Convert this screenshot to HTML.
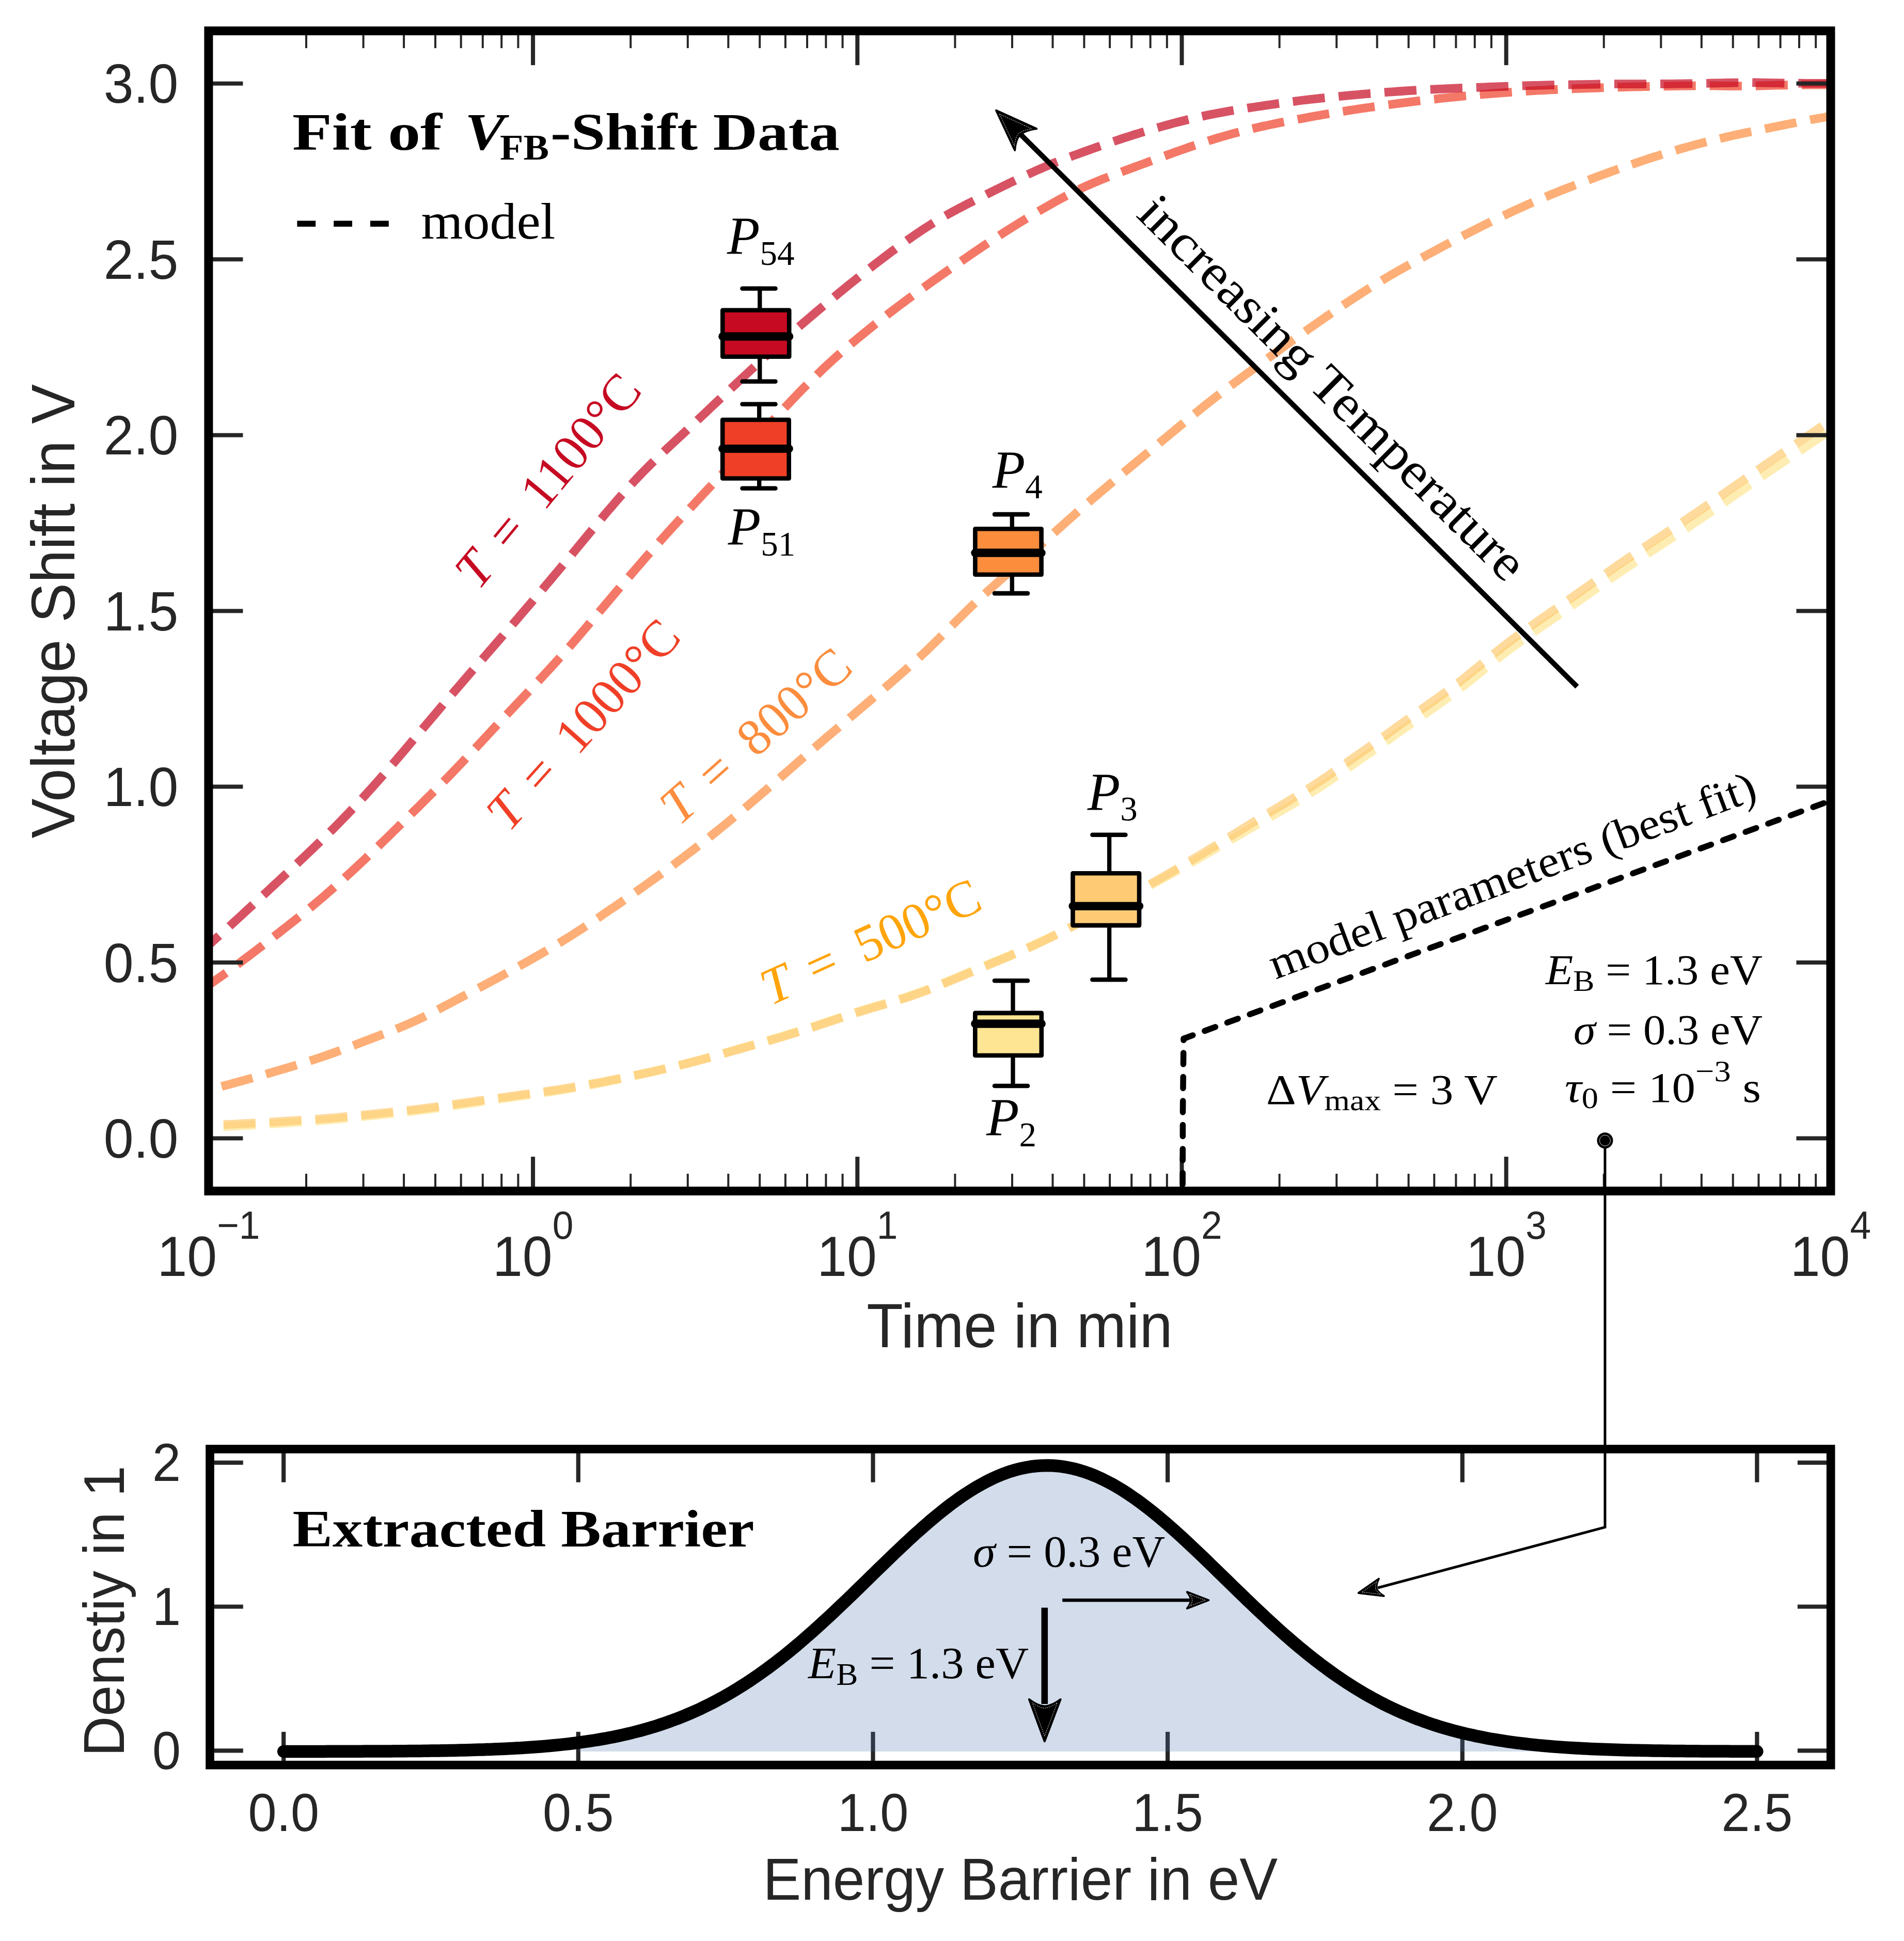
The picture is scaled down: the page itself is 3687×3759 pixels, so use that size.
<!DOCTYPE html>
<html><head><meta charset="utf-8"><style>
html,body{margin:0;padding:0;background:#fff;}
svg{display:block;}
</style></head><body>
<svg xmlns="http://www.w3.org/2000/svg" width="3687" height="3759" viewBox="0 0 3687 3759">
<rect width="3687" height="3759" fill="#fff"/>
<defs><clipPath id="cTop"><rect x="403.9" y="59.8" width="3141.1" height="2246.8"/></clipPath>
<clipPath id="cBot"><rect x="406.5" y="2806.3" width="3138.7" height="611.9"/></clipPath></defs>
<g clip-path="url(#cTop)">
<polyline points="432.8,2181.8 440.6,2181.5 448.5,2181.1 456.3,2180.7 464.2,2180.3 472,2179.9 479.8,2179.5 487.7,2179 495.5,2178.6 503.3,2178.1 511.2,2177.6 519,2177.1 526.9,2176.6 534.7,2176.1 542.5,2175.6 550.4,2175 558.2,2174.5 566,2174 573.9,2173.5 581.7,2172.9 589.6,2172.4 597.4,2171.9 605.2,2171.3 613.1,2170.8 620.9,2170.2 628.7,2169.5 636.6,2168.9 644.4,2168.2 652.3,2167.5 660.1,2166.8 667.9,2166 675.8,2165.3 683.6,2164.5 691.4,2163.7 699.3,2162.8 707.1,2162 715,2161.2 722.8,2160.4 730.6,2159.6 738.5,2158.7 746.3,2157.9 754.1,2157.1 762,2156.3 769.8,2155.4 777.7,2154.6 785.5,2153.7 793.3,2152.8 801.2,2151.9 809,2150.9 816.8,2150 824.7,2149 832.5,2147.9 840.4,2146.9 848.2,2145.8 856,2144.7 863.9,2143.6 871.7,2142.4 879.5,2141.3 887.4,2140.1 895.2,2139 903.1,2137.9 910.9,2136.7 918.7,2135.6 926.6,2134.4 934.4,2133.3 942.2,2132.1 950.1,2131 957.9,2129.9 965.8,2128.8 973.6,2127.6 981.4,2126.5 989.3,2125.4 997.1,2124.3 1004.9,2123.2 1012.8,2122.1 1020.6,2121 1028.5,2119.9 1036.3,2118.7 1044.1,2117.6 1052,2116.5 1059.8,2115.3 1067.6,2114.1 1075.5,2113 1083.3,2111.7 1091.2,2110.5 1099,2109.2 1106.8,2107.9 1114.7,2106.5 1122.5,2105.1 1130.3,2103.7 1138.2,2102.2 1146,2100.7 1153.9,2099.2 1161.7,2097.6 1169.5,2096 1177.4,2094.4 1185.2,2092.8 1193,2091.2 1200.9,2089.5 1208.7,2087.9 1216.6,2086.2 1224.4,2084.5 1232.2,2082.7 1240.1,2081 1247.9,2079.3 1255.7,2077.5 1263.6,2075.7 1271.4,2073.9 1279.3,2072.1 1287.1,2070.2 1294.9,2068.3 1302.8,2066.4 1310.6,2064.5 1318.4,2062.5 1326.3,2060.5 1334.1,2058.5 1342,2056.4 1349.8,2054.3 1357.6,2052.1 1365.5,2049.9 1373.3,2047.7 1381.1,2045.5 1389,2043.2 1396.8,2041 1404.7,2038.7 1412.5,2036.5 1420.3,2034.2 1428.2,2031.9 1436,2029.7 1443.8,2027.4 1451.7,2025.2 1459.5,2022.9 1467.4,2020.6 1475.2,2018.3 1483,2016 1490.9,2013.7 1498.7,2011.3 1506.6,2009 1514.4,2006.7 1522.2,2004.3 1530.1,2001.9 1537.9,1999.5 1545.7,1997.1 1553.6,1994.6 1561.4,1992.1 1569.3,1989.5 1577.1,1987 1584.9,1984.4 1592.8,1981.8 1600.6,1979.2 1608.4,1976.5 1616.3,1973.9 1624.1,1971.3 1632,1968.6 1639.8,1966 1647.6,1963.4 1655.5,1960.9 1663.3,1958.4 1671.1,1956 1679,1953.6 1686.8,1951.2 1694.7,1948.9 1702.5,1946.6 1710.3,1944.4 1718.2,1942.1 1726,1939.8 1733.8,1937.4 1741.7,1935 1749.5,1932.5 1757.4,1930 1765.2,1927.3 1773,1924.5 1780.9,1921.7 1788.7,1918.8 1796.5,1915.8 1804.4,1912.7 1812.2,1909.6 1820.1,1906.4 1827.9,1903.2 1835.7,1900 1843.6,1896.7 1851.4,1893.5 1859.2,1890.2 1867.1,1886.9 1874.9,1883.6 1882.8,1880.4 1890.6,1877.1 1898.4,1873.8 1906.3,1870.5 1914.1,1867.3 1921.9,1864 1929.8,1860.7 1937.6,1857.4 1945.5,1854.2 1953.3,1850.9 1961.1,1847.6 1969,1844.2 1976.8,1840.8 1984.6,1837.4 1992.5,1833.9 2000.3,1830.3 2008.2,1826.8 2016,1823.3 2023.8,1819.6 2031.7,1816 2039.5,1812.2 2047.3,1808.5 2055.2,1804.6 2063,1800.8 2070.9,1796.9 2078.7,1792.9 2086.5,1789 2094.4,1785 2102.2,1781 2110,1776.9 2117.9,1772.8 2125.7,1768.7 2133.6,1764.6 2141.4,1760.4 2149.2,1756.3 2157.1,1752.1 2164.9,1748 2172.7,1743.8 2180.6,1739.7 2188.4,1735.6 2196.3,1731.4 2204.1,1727.3 2211.9,1723.1 2219.8,1718.9 2227.6,1714.6 2235.4,1710.4 2243.3,1706.1 2251.1,1701.7 2259,1697.5 2266.8,1693.2 2274.6,1688.9 2282.5,1684.5 2290.3,1680.1 2298.1,1675.7 2306,1671.3 2313.8,1666.9 2321.7,1662.4 2329.5,1657.9 2337.3,1653.3 2345.2,1648.8 2353,1644.3 2360.8,1639.7 2368.7,1635.1 2376.5,1630.5 2384.4,1625.9 2392.2,1621.4 2400,1616.8 2407.9,1612.2 2415.7,1607.6 2423.5,1603.1 2431.4,1598.6 2439.2,1594.1 2447.1,1589.6 2454.9,1585.1 2462.7,1580.6 2470.6,1576.2 2478.4,1571.7 2486.2,1567.3 2494.1,1562.8 2501.9,1558.3 2509.8,1553.5 2517.6,1548.8 2525.4,1543.9 2533.3,1539 2541.1,1534 2549,1529 2556.8,1523.9 2564.6,1518.7 2572.5,1513.4 2580.3,1508.1 2588.1,1502.7 2596,1497.4 2603.8,1492 2611.7,1486.5 2619.5,1481.1 2627.3,1475.7 2635.2,1470.2 2643,1464.7 2650.8,1459.3 2658.7,1453.8 2666.5,1448.3 2674.4,1442.7 2682.2,1437.2 2690,1431.6 2697.9,1426.1 2705.7,1420.5 2713.5,1414.9 2721.4,1409.3 2729.2,1403.8 2737.1,1398.2 2744.9,1392.7 2752.7,1387.2 2760.6,1381.8 2768.4,1376.3 2776.2,1370.8 2784.1,1365.4 2791.9,1359.8 2799.8,1354.2 2807.6,1348.5 2815.4,1342.7 2823.3,1336.8 2831.1,1330.8 2838.9,1324.7 2846.8,1318.5 2854.6,1312.2 2862.5,1305.8 2870.3,1299.4 2878.1,1293.1 2886,1286.7 2893.8,1280.5 2901.6,1274.3 2909.5,1268.2 2917.3,1262.1 2925.2,1256.2 2933,1250.4 2940.8,1244.7 2948.7,1239.1 2956.5,1233.6 2964.3,1228.1 2972.2,1222.6 2980,1217.2 2987.9,1211.8 2995.7,1206.4 3003.5,1201 3011.4,1195.6 3019.2,1190.1 3027,1184.7 3034.9,1179.3 3042.7,1173.8 3050.6,1168.4 3058.4,1162.9 3066.2,1157.4 3074.1,1151.9 3081.9,1146.4 3089.7,1141 3097.6,1135.5 3105.4,1130 3113.3,1124.6 3121.1,1119.2 3128.9,1113.8 3136.8,1108.4 3144.6,1103.1 3152.4,1097.8 3160.3,1092.5 3168.1,1087.3 3176,1082.1 3183.8,1076.9 3191.6,1071.8 3199.5,1066.6 3207.3,1061.5 3215.1,1056.4 3223,1051.3 3230.8,1046.1 3238.7,1041 3246.5,1035.9 3254.3,1030.7 3262.2,1025.5 3270,1020.3 3277.8,1015 3285.7,1009.8 3293.5,1004.5 3301.4,999.1 3309.2,993.8 3317,988.4 3324.9,983 3332.7,977.6 3340.5,972.2 3348.4,966.7 3356.2,961.3 3364.1,955.9 3371.9,950.4 3379.7,945 3387.6,939.6 3395.4,934.2 3403.2,928.8 3411.1,923.4 3418.9,918 3426.8,912.6 3434.6,907.3 3442.4,902 3450.3,896.6 3458.1,891.3 3465.9,886 3473.8,880.7 3481.6,875.4 3489.5,870.2 3497.3,864.9 3505.1,859.7 3513,854.4 3520.8,849.2 3528.6,844 3536.5,838.8 3544.3,833.7 3552.2,828.6 3560,823.5" fill="none" stroke="#fee593" stroke-width="16.8" stroke-opacity="0.7" stroke-dasharray="62.2 26.9" stroke-dashoffset="0" stroke-linejoin="round"/>
<polyline points="432.8,2177.8 440.6,2177.5 448.5,2177.1 456.3,2176.8 464.2,2176.4 472,2176 479.8,2175.6 487.7,2175.2 495.5,2174.8 503.3,2174.3 511.2,2173.9 519,2173.4 526.9,2172.9 534.7,2172.4 542.5,2171.9 550.4,2171.4 558.2,2170.9 566,2170.4 573.9,2169.9 581.7,2169.4 589.6,2168.9 597.4,2168.4 605.2,2167.8 613.1,2167.3 620.9,2166.7 628.7,2166.1 636.6,2165.5 644.4,2164.9 652.3,2164.2 660.1,2163.5 667.9,2162.7 675.8,2162 683.6,2161.2 691.4,2160.4 699.3,2159.6 707.1,2158.9 715,2158.1 722.8,2157.3 730.6,2156.5 738.5,2155.7 746.3,2154.9 754.1,2154.1 762,2153.3 769.8,2152.4 777.7,2151.6 785.5,2150.8 793.3,2149.9 801.2,2149 809,2148.1 816.8,2147.1 824.7,2146.1 832.5,2145.1 840.4,2144.1 848.2,2143 856,2141.9 863.9,2140.8 871.7,2139.7 879.5,2138.6 887.4,2137.5 895.2,2136.4 903.1,2135.3 910.9,2134.2 918.7,2133 926.6,2131.9 934.4,2130.8 942.2,2129.7 950.1,2128.6 957.9,2127.5 965.8,2126.4 973.6,2125.3 981.4,2124.2 989.3,2123.1 997.1,2122 1004.9,2120.9 1012.8,2119.8 1020.6,2118.7 1028.5,2117.6 1036.3,2116.6 1044.1,2115.4 1052,2114.3 1059.8,2113.2 1067.6,2112.1 1075.5,2110.9 1083.3,2109.7 1091.2,2108.5 1099,2107.2 1106.8,2105.9 1114.7,2104.6 1122.5,2103.3 1130.3,2101.9 1138.2,2100.5 1146,2099.1 1153.9,2097.6 1161.7,2096.2 1169.5,2094.7 1177.4,2093.1 1185.2,2091.6 1193,2090 1200.9,2088.4 1208.7,2086.8 1216.6,2085.2 1224.4,2083.6 1232.2,2081.9 1240.1,2080.2 1247.9,2078.6 1255.7,2076.9 1263.6,2075.1 1271.4,2073.4 1279.3,2071.6 1287.1,2069.9 1294.9,2068 1302.8,2066.2 1310.6,2064.3 1318.4,2062.4 1326.3,2060.5 1334.1,2058.5 1342,2056.5 1349.8,2054.5 1357.6,2052.4 1365.5,2050.3 1373.3,2048.1 1381.1,2046 1389,2043.8 1396.8,2041.6 1404.7,2039.4 1412.5,2037.2 1420.3,2035 1428.2,2032.8 1436,2030.6 1443.8,2028.4 1451.7,2026.2 1459.5,2024 1467.4,2021.8 1475.2,2019.6 1483,2017.4 1490.9,2015.1 1498.7,2012.8 1506.6,2010.5 1514.4,2008.2 1522.2,2005.8 1530.1,2003.4 1537.9,2001 1545.7,1998.6 1553.6,1996.1 1561.4,1993.6 1569.3,1991 1577.1,1988.5 1584.9,1985.9 1592.8,1983.3 1600.6,1980.7 1608.4,1978 1616.3,1975.4 1624.1,1972.8 1632,1970.1 1639.8,1967.5 1647.6,1964.9 1655.5,1962.4 1663.3,1959.9 1671.1,1957.5 1679,1955.1 1686.8,1952.7 1694.7,1950.4 1702.5,1948.1 1710.3,1945.9 1718.2,1943.6 1726,1941.3 1733.8,1938.9 1741.7,1936.5 1749.5,1934 1757.4,1931.5 1765.2,1928.8 1773,1926 1780.9,1923.2 1788.7,1920.3 1796.5,1917.3 1804.4,1914.2 1812.2,1911.1 1820.1,1907.9 1827.9,1904.7 1835.7,1901.5 1843.6,1898.2 1851.4,1895 1859.2,1891.7 1867.1,1888.4 1874.9,1885.1 1882.8,1881.9 1890.6,1878.6 1898.4,1875.3 1906.3,1872 1914.1,1868.8 1921.9,1865.5 1929.8,1862.2 1937.6,1858.9 1945.5,1855.7 1953.3,1852.4 1961.1,1849.1 1969,1845.7 1976.8,1842.3 1984.6,1838.9 1992.5,1835.4 2000.3,1831.8 2008.2,1828.2 2016,1824.5 2023.8,1820.7 2031.7,1816.9 2039.5,1813 2047.3,1809.1 2055.2,1805.1 2063,1801.1 2070.9,1797.1 2078.7,1793 2086.5,1788.9 2094.4,1784.8 2102.2,1780.6 2110,1776.4 2117.9,1772.2 2125.7,1767.9 2133.6,1763.7 2141.4,1759.4 2149.2,1755.1 2157.1,1750.8 2164.9,1746.5 2172.7,1742.2 2180.6,1738 2188.4,1733.7 2196.3,1729.4 2204.1,1725.1 2211.9,1720.8 2219.8,1716.4 2227.6,1712 2235.4,1707.6 2243.3,1703.2 2251.1,1698.7 2259,1694.2 2266.8,1689.7 2274.6,1685.1 2282.5,1680.5 2290.3,1675.9 2298.1,1671.2 2306,1666.5 2313.8,1661.8 2321.7,1657.1 2329.5,1652.3 2337.3,1647.6 2345.2,1642.8 2353,1638 2360.8,1633.1 2368.7,1628.3 2376.5,1623.5 2384.4,1618.6 2392.2,1613.8 2400,1609 2407.9,1604.2 2415.7,1599.3 2423.5,1594.5 2431.4,1589.8 2439.2,1585 2447.1,1580.3 2454.9,1575.5 2462.7,1570.8 2470.6,1566.1 2478.4,1561.4 2486.2,1556.7 2494.1,1552 2501.9,1547.2 2509.8,1542.4 2517.6,1537.6 2525.4,1532.7 2533.3,1527.7 2541.1,1522.6 2549,1517.5 2556.8,1512.3 2564.6,1507 2572.5,1501.7 2580.3,1496.3 2588.1,1490.9 2596,1485.4 2603.8,1479.9 2611.7,1474.4 2619.5,1468.9 2627.3,1463.4 2635.2,1457.8 2643,1452.3 2650.8,1446.8 2658.7,1441.2 2666.5,1435.6 2674.4,1430 2682.2,1424.4 2690,1418.7 2697.9,1413.1 2705.7,1407.4 2713.5,1401.8 2721.4,1396.1 2729.2,1390.5 2737.1,1384.9 2744.9,1379.3 2752.7,1373.7 2760.6,1368.2 2768.4,1362.6 2776.2,1357.1 2784.1,1351.5 2791.9,1345.9 2799.8,1340.2 2807.6,1334.5 2815.4,1328.6 2823.3,1322.6 2831.1,1316.5 2838.9,1310.3 2846.8,1304 2854.6,1297.6 2862.5,1291.2 2870.3,1284.7 2878.1,1278.3 2886,1271.9 2893.8,1265.5 2901.6,1259.3 2909.5,1253.1 2917.3,1247 2925.2,1241.1 2933,1235.2 2940.8,1229.5 2948.7,1223.8 2956.5,1218.2 2964.3,1212.7 2972.2,1207.2 2980,1201.7 2987.9,1196.2 2995.7,1190.8 3003.5,1185.3 3011.4,1179.9 3019.2,1174.4 3027,1169 3034.9,1163.5 3042.7,1158 3050.6,1152.5 3058.4,1146.9 3066.2,1141.4 3074.1,1135.9 3081.9,1130.3 3089.7,1124.8 3097.6,1119.3 3105.4,1113.8 3113.3,1108.3 3121.1,1102.8 3128.9,1097.4 3136.8,1092 3144.6,1086.6 3152.4,1081.3 3160.3,1076 3168.1,1070.7 3176,1065.4 3183.8,1060.2 3191.6,1055 3199.5,1049.8 3207.3,1044.6 3215.1,1039.5 3223,1034.3 3230.8,1029.1 3238.7,1024 3246.5,1018.8 3254.3,1013.6 3262.2,1008.3 3270,1003 3277.8,997.8 3285.7,992.4 3293.5,987.1 3301.4,981.7 3309.2,976.3 3317,970.9 3324.9,965.4 3332.7,960 3340.5,954.5 3348.4,949 3356.2,943.5 3364.1,938 3371.9,932.6 3379.7,927.1 3387.6,921.6 3395.4,916.1 3403.2,910.7 3411.1,905.3 3418.9,899.9 3426.8,894.5 3434.6,889.1 3442.4,883.7 3450.3,878.3 3458.1,872.9 3465.9,867.6 3473.8,862.2 3481.6,856.9 3489.5,851.6 3497.3,846.3 3505.1,841 3513,835.7 3520.8,830.4 3528.6,825.2 3536.5,820 3544.3,814.8 3552.2,809.6 3560,804.5" fill="none" stroke="#fecb74" stroke-width="16.8" stroke-opacity="0.7" stroke-dasharray="62.2 26.9" stroke-dashoffset="0" stroke-linejoin="round"/>
<polyline points="429,2103.9 436.8,2101.8 444.7,2099.8 452.5,2097.7 460.4,2095.5 468.2,2093.4 476.1,2091.2 483.9,2089 491.8,2086.8 499.6,2084.5 507.5,2082.3 515.3,2080 523.2,2077.8 531,2075.5 538.9,2073.2 546.7,2070.9 554.6,2068.6 562.4,2066.2 570.2,2063.9 578.1,2061.5 585.9,2059 593.8,2056.6 601.6,2054 609.5,2051.5 617.3,2048.9 625.2,2046.2 633,2043.5 640.9,2040.8 648.7,2038 656.6,2035.1 664.4,2032.2 672.3,2029.3 680.1,2026.4 688,2023.4 695.8,2020.4 703.6,2017.4 711.5,2014.4 719.3,2011.4 727.2,2008.4 735,2005.4 742.9,2002.4 750.7,1999.4 758.6,1996.3 766.4,1993.2 774.3,1990 782.1,1986.8 790,1983.4 797.8,1979.9 805.7,1976.4 813.5,1972.7 821.4,1968.9 829.2,1965 837.1,1961 844.9,1957 852.7,1952.9 860.6,1948.7 868.4,1944.6 876.3,1940.4 884.1,1936.2 892,1932 899.8,1927.8 907.7,1923.7 915.5,1919.5 923.4,1915.3 931.2,1911.2 939.1,1907 946.9,1902.8 954.8,1898.6 962.6,1894.4 970.5,1890.2 978.3,1885.9 986.1,1881.6 994,1877.3 1001.8,1873 1009.7,1868.6 1017.5,1864.3 1025.4,1859.9 1033.2,1855.4 1041.1,1850.9 1048.9,1846.4 1056.8,1841.8 1064.6,1837.2 1072.5,1832.6 1080.3,1827.8 1088.2,1823 1096,1818.2 1103.9,1813.3 1111.7,1808.3 1119.5,1803.2 1127.4,1798.1 1135.2,1793 1143.1,1787.8 1150.9,1782.5 1158.8,1777.3 1166.6,1771.9 1174.5,1766.6 1182.3,1761.2 1190.2,1755.9 1198,1750.5 1205.9,1745 1213.7,1739.6 1221.6,1734.1 1229.4,1728.7 1237.3,1723.1 1245.1,1717.6 1252.9,1712 1260.8,1706.4 1268.6,1700.8 1276.5,1695.1 1284.3,1689.4 1292.2,1683.6 1300,1677.8 1307.9,1672 1315.7,1666.1 1323.6,1660.2 1331.4,1654.2 1339.3,1648.2 1347.1,1642.1 1355,1636 1362.8,1629.9 1370.7,1623.7 1378.5,1617.4 1386.3,1611.1 1394.2,1604.8 1402,1598.4 1409.9,1592 1417.7,1585.5 1425.6,1579 1433.4,1572.5 1441.3,1565.9 1449.1,1559.3 1457,1552.6 1464.8,1545.9 1472.7,1539.2 1480.5,1532.4 1488.4,1525.6 1496.2,1518.8 1504.1,1512 1511.9,1505.1 1519.7,1498.3 1527.6,1491.4 1535.4,1484.6 1543.3,1477.7 1551.1,1470.9 1559,1464.1 1566.8,1457.3 1574.7,1450.5 1582.5,1443.7 1590.4,1437 1598.2,1430.2 1606.1,1423.5 1613.9,1416.8 1621.8,1410.2 1629.6,1403.5 1637.5,1396.9 1645.3,1390.2 1653.2,1383.6 1661,1376.9 1668.8,1370.3 1676.7,1363.6 1684.5,1357 1692.4,1350.3 1700.2,1343.6 1708.1,1336.9 1715.9,1330.1 1723.8,1323.3 1731.6,1316.5 1739.5,1309.7 1747.3,1302.8 1755.2,1295.8 1763,1288.8 1770.9,1281.7 1778.7,1274.5 1786.6,1267.2 1794.4,1259.8 1802.2,1252.2 1810.1,1244.6 1817.9,1236.9 1825.8,1229.1 1833.6,1221.2 1841.5,1213.3 1849.3,1205.5 1857.2,1197.6 1865,1189.9 1872.9,1182.2 1880.7,1174.6 1888.6,1167.2 1896.4,1159.9 1904.3,1152.6 1912.1,1145.5 1920,1138.4 1927.8,1131.4 1935.6,1124.5 1943.5,1117.6 1951.3,1110.8 1959.2,1103.9 1967,1097.1 1974.9,1090.3 1982.7,1083.5 1990.6,1076.6 1998.4,1069.8 2006.3,1062.9 2014.1,1055.9 2022,1049 2029.8,1042 2037.7,1035 2045.5,1028 2053.4,1020.9 2061.2,1013.9 2069,1007 2076.9,1000 2084.7,993 2092.6,986.1 2100.4,979.3 2108.3,972.5 2116.1,965.7 2124,959 2131.8,952.3 2139.7,945.7 2147.5,939.1 2155.4,932.5 2163.2,925.9 2171.1,919.4 2178.9,912.8 2186.8,906.3 2194.6,899.8 2202.4,893.3 2210.3,886.8 2218.1,880.3 2226,873.8 2233.8,867.2 2241.7,860.7 2249.5,854.2 2257.4,847.7 2265.2,841.2 2273.1,834.7 2280.9,828.2 2288.8,821.7 2296.6,815.2 2304.5,808.7 2312.3,802.3 2320.2,796 2328,789.6 2335.8,783.4 2343.7,777.2 2351.5,771 2359.4,764.9 2367.2,758.9 2375.1,753 2382.9,747.1 2390.8,741.2 2398.6,735.4 2406.5,729.6 2414.3,723.8 2422.2,718.1 2430,712.3 2437.9,706.5 2445.7,700.8 2453.6,695 2461.4,689.3 2469.3,683.6 2477.1,677.9 2484.9,672.2 2492.8,666.5 2500.6,660.9 2508.5,655.3 2516.3,649.7 2524.2,644.1 2532,638.6 2539.9,633.1 2547.7,627.6 2555.6,622.1 2563.4,616.7 2571.3,611.3 2579.1,606 2587,600.6 2594.8,595.3 2602.7,590 2610.5,584.8 2618.3,579.6 2626.2,574.5 2634,569.4 2641.9,564.3 2649.7,559.3 2657.6,554.4 2665.4,549.6 2673.3,544.8 2681.1,540.1 2689,535.4 2696.8,530.8 2704.7,526.3 2712.5,521.8 2720.4,517.4 2728.2,513 2736.1,508.7 2743.9,504.4 2751.7,500.1 2759.6,495.8 2767.4,491.5 2775.3,487.3 2783.1,483.1 2791,478.9 2798.8,474.7 2806.7,470.5 2814.5,466.4 2822.4,462.2 2830.2,458.1 2838.1,454.1 2845.9,450.1 2853.8,446.1 2861.6,442.1 2869.5,438.1 2877.3,434.2 2885.1,430.4 2893,426.5 2900.8,422.7 2908.7,419 2916.5,415.3 2924.4,411.6 2932.2,407.9 2940.1,404.3 2947.9,400.8 2955.8,397.3 2963.6,393.8 2971.5,390.4 2979.3,387 2987.2,383.7 2995,380.4 3002.9,377.1 3010.7,373.9 3018.5,370.8 3026.4,367.6 3034.2,364.6 3042.1,361.5 3049.9,358.5 3057.8,355.5 3065.6,352.5 3073.5,349.5 3081.3,346.6 3089.2,343.6 3097,340.7 3104.9,337.8 3112.7,335 3120.6,332.2 3128.4,329.3 3136.3,326.6 3144.1,323.8 3151.9,321.1 3159.8,318.3 3167.6,315.7 3175.5,313 3183.3,310.4 3191.2,307.8 3199,305.2 3206.9,302.7 3214.7,300.2 3222.6,297.7 3230.4,295.3 3238.3,293 3246.1,290.7 3254,288.4 3261.8,286.1 3269.7,284 3277.5,281.8 3285.4,279.7 3293.2,277.6 3301,275.6 3308.9,273.6 3316.7,271.6 3324.6,269.7 3332.4,267.8 3340.3,266 3348.1,264.2 3356,262.4 3363.8,260.7 3371.7,259 3379.5,257.3 3387.4,255.7 3395.2,254.1 3403.1,252.5 3410.9,250.9 3418.8,249.3 3426.6,247.7 3434.4,246.1 3442.3,244.5 3450.1,242.9 3458,241.3 3465.8,239.8 3473.7,238.2 3481.5,236.6 3489.4,235.1 3497.2,233.6 3505.1,232.1 3512.9,230.7 3520.8,229.3 3528.6,227.9 3536.5,226.5 3544.3,225.2 3552.2,223.9 3560,222.7" fill="none" stroke="#fc8d3d" stroke-width="16.8" stroke-opacity="0.7" stroke-dasharray="62.2 26.9" stroke-dashoffset="0" stroke-linejoin="round"/>
<polyline points="380,1923.5 388,1918.3 395.9,1913 403.9,1907.6 411.9,1902.2 419.8,1896.7 427.8,1891.1 435.8,1885.4 443.8,1879.6 451.7,1873.8 459.7,1867.9 467.7,1862 475.6,1856 483.6,1850 491.6,1843.9 499.5,1837.8 507.5,1831.7 515.5,1825.5 523.5,1819.3 531.4,1813.2 539.4,1807 547.4,1800.7 555.3,1794.5 563.3,1788.2 571.3,1781.9 579.2,1775.5 587.2,1769.1 595.2,1762.6 603.2,1756 611.1,1749.3 619.1,1742.6 627.1,1735.8 635,1728.9 643,1721.9 651,1714.9 658.9,1707.8 666.9,1700.6 674.9,1693.3 682.9,1686 690.8,1678.6 698.8,1671.1 706.8,1663.6 714.7,1656 722.7,1648.4 730.7,1640.7 738.6,1633 746.6,1625.2 754.6,1617.4 762.6,1609.6 770.5,1601.8 778.5,1594 786.5,1586.1 794.4,1578.2 802.4,1570.3 810.4,1562.4 818.3,1554.5 826.3,1546.6 834.3,1538.6 842.3,1530.6 850.2,1522.5 858.2,1514.4 866.2,1506.3 874.1,1498.1 882.1,1489.8 890.1,1481.5 898,1473.1 906,1464.6 914,1456.1 922,1447.6 929.9,1439 937.9,1430.5 945.9,1421.9 953.8,1413.3 961.8,1404.7 969.8,1396.2 977.7,1387.7 985.7,1379.2 993.7,1370.7 1001.7,1362.3 1009.6,1353.9 1017.6,1345.4 1025.6,1337 1033.5,1328.5 1041.5,1320 1049.5,1311.5 1057.4,1302.9 1065.4,1294.2 1073.4,1285.5 1081.4,1276.7 1089.3,1267.8 1097.3,1258.8 1105.3,1249.7 1113.2,1240.5 1121.2,1231.3 1129.2,1221.9 1137.1,1212.6 1145.1,1203.1 1153.1,1193.7 1161.1,1184.2 1169,1174.8 1177,1165.3 1185,1155.9 1192.9,1146.5 1200.9,1137.1 1208.9,1127.8 1216.8,1118.5 1224.8,1109.2 1232.8,1100 1240.8,1090.7 1248.7,1081.6 1256.7,1072.4 1264.7,1063.3 1272.6,1054.3 1280.6,1045.3 1288.6,1036.4 1296.5,1027.6 1304.5,1018.8 1312.5,1010.1 1320.5,1001.4 1328.4,992.8 1336.4,984.2 1344.4,975.7 1352.3,967.1 1360.3,958.6 1368.3,950.1 1376.2,941.6 1384.2,933.1 1392.2,924.7 1400.2,916.3 1408.1,907.9 1416.1,899.5 1424.1,891.1 1432,882.7 1440,874.3 1448,865.9 1455.9,857.5 1463.9,849.1 1471.9,840.6 1479.8,832.1 1487.8,823.6 1495.8,815 1503.8,806.5 1511.7,798 1519.7,789.5 1527.7,781.1 1535.6,772.7 1543.6,764.4 1551.6,756.2 1559.5,748.1 1567.5,740.1 1575.5,732.2 1583.5,724.4 1591.4,716.7 1599.4,709.2 1607.4,701.9 1615.3,694.6 1623.3,687.5 1631.3,680.5 1639.2,673.6 1647.2,666.8 1655.2,660.1 1663.2,653.4 1671.1,646.9 1679.1,640.4 1687.1,633.9 1695,627.6 1703,621.3 1711,615 1718.9,608.8 1726.9,602.7 1734.9,596.6 1742.9,590.6 1750.8,584.7 1758.8,578.8 1766.8,572.9 1774.7,567.1 1782.7,561.3 1790.7,555.6 1798.6,549.9 1806.6,544.2 1814.6,538.6 1822.6,532.9 1830.5,527.3 1838.5,521.7 1846.5,516.2 1854.4,510.6 1862.4,505.1 1870.4,499.6 1878.3,494.1 1886.3,488.6 1894.3,483.2 1902.3,477.8 1910.2,472.5 1918.2,467.2 1926.2,461.9 1934.1,456.7 1942.1,451.6 1950.1,446.5 1958,441.5 1966,436.5 1974,431.5 1982,426.6 1989.9,421.8 1997.9,417 2005.9,412.3 2013.8,407.6 2021.8,403 2029.8,398.5 2037.7,394 2045.7,389.5 2053.7,385.2 2061.7,380.9 2069.6,376.8 2077.6,372.7 2085.6,368.7 2093.5,364.9 2101.5,361.2 2109.5,357.7 2117.4,354.2 2125.4,350.9 2133.4,347.6 2141.4,344.5 2149.3,341.4 2157.3,338.3 2165.3,335.3 2173.2,332.3 2181.2,329.4 2189.2,326.4 2197.1,323.5 2205.1,320.5 2213.1,317.6 2221.1,314.6 2229,311.7 2237,308.7 2245,305.8 2252.9,302.9 2260.9,300 2268.9,297.1 2276.8,294.2 2284.8,291.4 2292.8,288.6 2300.8,285.8 2308.7,283 2316.7,280.3 2324.7,277.7 2332.6,275.1 2340.6,272.5 2348.6,270.1 2356.5,267.6 2364.5,265.3 2372.5,263 2380.5,260.7 2388.4,258.5 2396.4,256.4 2404.4,254.3 2412.3,252.3 2420.3,250.4 2428.3,248.5 2436.2,246.6 2444.2,244.8 2452.2,243.1 2460.2,241.4 2468.1,239.7 2476.1,238.1 2484.1,236.5 2492,234.9 2500,233.4 2508,231.9 2515.9,230.4 2523.9,228.9 2531.9,227.4 2539.8,226 2547.8,224.6 2555.8,223.2 2563.8,221.8 2571.7,220.4 2579.7,219.1 2587.7,217.8 2595.6,216.5 2603.6,215.2 2611.6,213.9 2619.5,212.7 2627.5,211.5 2635.5,210.3 2643.5,209.1 2651.4,208 2659.4,206.9 2667.4,205.8 2675.3,204.7 2683.3,203.6 2691.3,202.5 2699.2,201.5 2707.2,200.4 2715.2,199.4 2723.2,198.4 2731.1,197.4 2739.1,196.4 2747.1,195.4 2755,194.5 2763,193.6 2771,192.6 2778.9,191.8 2786.9,190.9 2794.9,190 2802.9,189.2 2810.8,188.4 2818.8,187.6 2826.8,186.8 2834.7,186 2842.7,185.3 2850.7,184.6 2858.6,183.9 2866.6,183.2 2874.6,182.5 2882.6,181.8 2890.5,181.2 2898.5,180.6 2906.5,179.9 2914.4,179.3 2922.4,178.8 2930.4,178.2 2938.3,177.7 2946.3,177.1 2954.3,176.6 2962.3,176.1 2970.2,175.7 2978.2,175.2 2986.2,174.8 2994.1,174.3 3002.1,173.9 3010.1,173.5 3018,173.1 3026,172.8 3034,172.4 3042,172.1 3049.9,171.7 3057.9,171.4 3065.9,171.1 3073.8,170.8 3081.8,170.5 3089.8,170.3 3097.7,170 3105.7,169.7 3113.7,169.5 3121.7,169.2 3129.6,169 3137.6,168.8 3145.6,168.6 3153.5,168.4 3161.5,168.2 3169.5,168 3177.4,167.8 3185.4,167.6 3193.4,167.5 3201.4,167.3 3209.3,167.2 3217.3,167 3225.3,166.9 3233.2,166.8 3241.2,166.6 3249.2,166.5 3257.1,166.4 3265.1,166.3 3273.1,166.3 3281.1,166.2 3289,166.2 3297,166.2 3305,166.2 3312.9,166.2 3320.9,166.2 3328.9,166.3 3336.8,166.4 3344.8,166.5 3352.8,166.6 3360.8,166.6 3368.7,166.7 3376.7,166.7 3384.7,166.6 3392.6,166.5 3400.6,166.3 3408.6,166.1 3416.5,165.9 3424.5,165.7 3432.5,165.4 3440.5,165.2 3448.4,165 3456.4,164.9 3464.4,164.7 3472.3,164.6 3480.3,164.4 3488.3,164.3 3496.2,164.2 3504.2,164.2 3512.2,164.1 3520.2,164 3528.1,164 3536.1,163.9 3544.1,163.9 3552,163.8 3560,163.8" fill="none" stroke="#f03f27" stroke-width="16.8" stroke-opacity="0.7" stroke-dasharray="62.2 26.9" stroke-dashoffset="-8" stroke-linejoin="round"/>
<polyline points="380,1851 388,1844.1 395.9,1837.2 403.9,1830.3 411.9,1823.2 419.8,1816.1 427.8,1809 435.8,1801.8 443.8,1794.5 451.7,1787.2 459.7,1779.9 467.7,1772.6 475.6,1765.2 483.6,1757.9 491.6,1750.5 499.5,1743.1 507.5,1735.7 515.5,1728.3 523.5,1720.9 531.4,1713.5 539.4,1706.1 547.4,1698.6 555.3,1691.1 563.3,1683.6 571.3,1676.1 579.2,1668.6 587.2,1661.1 595.2,1653.5 603.2,1645.9 611.1,1638.3 619.1,1630.6 627.1,1622.9 635,1615.1 643,1607.2 651,1599.2 658.9,1591.1 666.9,1582.9 674.9,1574.6 682.9,1566.2 690.8,1557.7 698.8,1549.1 706.8,1540.5 714.7,1531.7 722.7,1522.8 730.7,1513.9 738.6,1504.9 746.6,1495.8 754.6,1486.6 762.6,1477.3 770.5,1468 778.5,1458.7 786.5,1449.3 794.4,1439.9 802.4,1430.4 810.4,1421 818.3,1411.5 826.3,1402.1 834.3,1392.6 842.3,1383.2 850.2,1373.8 858.2,1364.4 866.2,1355.1 874.1,1345.8 882.1,1336.5 890.1,1327.3 898,1318 906,1308.8 914,1299.6 922,1290.5 929.9,1281.3 937.9,1272.2 945.9,1263 953.8,1253.9 961.8,1244.7 969.8,1235.5 977.7,1226.4 985.7,1217.2 993.7,1207.9 1001.7,1198.7 1009.6,1189.4 1017.6,1180.1 1025.6,1170.8 1033.5,1161.4 1041.5,1152 1049.5,1142.6 1057.4,1133.1 1065.4,1123.7 1073.4,1114.2 1081.4,1104.7 1089.3,1095.2 1097.3,1085.6 1105.3,1076.1 1113.2,1066.5 1121.2,1056.9 1129.2,1047.2 1137.1,1037.6 1145.1,1027.9 1153.1,1018.3 1161.1,1008.7 1169,999.2 1177,989.7 1185,980.4 1192.9,971.1 1200.9,962 1208.9,953 1216.8,944.2 1224.8,935.6 1232.8,927 1240.8,918.7 1248.7,910.5 1256.7,902.5 1264.7,894.6 1272.6,886.9 1280.6,879.3 1288.6,871.7 1296.5,864.3 1304.5,856.9 1312.5,849.4 1320.5,842 1328.4,834.6 1336.4,827.1 1344.4,819.6 1352.3,812.1 1360.3,804.6 1368.3,797.1 1376.2,789.5 1384.2,782 1392.2,774.5 1400.2,766.9 1408.1,759.4 1416.1,751.9 1424.1,744.5 1432,737 1440,729.6 1448,722.2 1455.9,714.8 1463.9,707.4 1471.9,700.1 1479.8,692.7 1487.8,685.4 1495.8,678.2 1503.8,671 1511.7,663.8 1519.7,656.7 1527.7,649.7 1535.6,642.7 1543.6,635.8 1551.6,628.9 1559.5,622.1 1567.5,615.3 1575.5,608.5 1583.5,601.8 1591.4,595.1 1599.4,588.5 1607.4,581.8 1615.3,575.2 1623.3,568.6 1631.3,562.1 1639.2,555.6 1647.2,549.1 1655.2,542.7 1663.2,536.3 1671.1,529.9 1679.1,523.6 1687.1,517.4 1695,511.2 1703,505.1 1711,499 1718.9,493 1726.9,487 1734.9,481.1 1742.9,475.3 1750.8,469.6 1758.8,464 1766.8,458.4 1774.7,452.9 1782.7,447.6 1790.7,442.3 1798.6,437.2 1806.6,432.2 1814.6,427.3 1822.6,422.6 1830.5,418 1838.5,413.5 1846.5,409.1 1854.4,404.9 1862.4,400.7 1870.4,396.6 1878.3,392.5 1886.3,388.5 1894.3,384.5 1902.3,380.5 1910.2,376.5 1918.2,372.6 1926.2,368.6 1934.1,364.7 1942.1,360.8 1950.1,356.9 1958,353 1966,349.2 1974,345.4 1982,341.6 1989.9,337.9 1997.9,334.3 2005.9,330.7 2013.8,327.2 2021.8,323.8 2029.8,320.4 2037.7,317.1 2045.7,313.9 2053.7,310.8 2061.7,307.7 2069.6,304.7 2077.6,301.7 2085.6,298.8 2093.5,295.9 2101.5,293 2109.5,290.2 2117.4,287.3 2125.4,284.5 2133.4,281.8 2141.4,279 2149.3,276.3 2157.3,273.6 2165.3,271 2173.2,268.3 2181.2,265.7 2189.2,263.2 2197.1,260.6 2205.1,258.2 2213.1,255.7 2221.1,253.3 2229,250.9 2237,248.6 2245,246.3 2252.9,244 2260.9,241.8 2268.9,239.7 2276.8,237.5 2284.8,235.5 2292.8,233.5 2300.8,231.5 2308.7,229.6 2316.7,227.7 2324.7,226 2332.6,224.2 2340.6,222.5 2348.6,220.9 2356.5,219.4 2364.5,217.9 2372.5,216.4 2380.5,215 2388.4,213.7 2396.4,212.4 2404.4,211.1 2412.3,209.9 2420.3,208.6 2428.3,207.5 2436.2,206.3 2444.2,205.1 2452.2,203.9 2460.2,202.7 2468.1,201.6 2476.1,200.4 2484.1,199.3 2492,198.2 2500,197.1 2508,196.1 2515.9,195 2523.9,194 2531.9,193.1 2539.8,192.2 2547.8,191.3 2555.8,190.4 2563.8,189.6 2571.7,188.8 2579.7,188 2587.7,187.2 2595.6,186.4 2603.6,185.7 2611.6,184.9 2619.5,184.2 2627.5,183.5 2635.5,182.7 2643.5,182 2651.4,181.3 2659.4,180.7 2667.4,180 2675.3,179.4 2683.3,178.7 2691.3,178.1 2699.2,177.6 2707.2,177 2715.2,176.5 2723.2,175.9 2731.1,175.4 2739.1,175 2747.1,174.5 2755,174.1 2763,173.6 2771,173.2 2778.9,172.8 2786.9,172.4 2794.9,172.1 2802.9,171.7 2810.8,171.4 2818.8,171 2826.8,170.7 2834.7,170.4 2842.7,170.1 2850.7,169.8 2858.6,169.4 2866.6,169.1 2874.6,168.8 2882.6,168.5 2890.5,168.2 2898.5,167.9 2906.5,167.6 2914.4,167.3 2922.4,167 2930.4,166.7 2938.3,166.4 2946.3,166.2 2954.3,165.9 2962.3,165.7 2970.2,165.5 2978.2,165.3 2986.2,165.1 2994.1,164.9 3002.1,164.7 3010.1,164.6 3018,164.4 3026,164.3 3034,164.1 3042,164 3049.9,163.8 3057.9,163.7 3065.9,163.6 3073.8,163.4 3081.8,163.3 3089.8,163.1 3097.7,163 3105.7,162.9 3113.7,162.8 3121.7,162.7 3129.6,162.6 3137.6,162.6 3145.6,162.6 3153.5,162.6 3161.5,162.6 3169.5,162.7 3177.4,162.7 3185.4,162.7 3193.4,162.6 3201.4,162.6 3209.3,162.6 3217.3,162.5 3225.3,162.5 3233.2,162.4 3241.2,162.3 3249.2,162.2 3257.1,162.1 3265.1,162 3273.1,161.9 3281.1,161.8 3289,161.7 3297,161.5 3305,161.4 3312.9,161.2 3320.9,161 3328.9,160.9 3336.8,160.7 3344.8,160.5 3352.8,160.3 3360.8,160.1 3368.7,160 3376.7,159.9 3384.7,159.9 3392.6,159.9 3400.6,160 3408.6,160.1 3416.5,160.3 3424.5,160.4 3432.5,160.6 3440.5,160.7 3448.4,160.9 3456.4,161 3464.4,161.1 3472.3,161.1 3480.3,161.2 3488.3,161.2 3496.2,161.3 3504.2,161.3 3512.2,161.3 3520.2,161.3 3528.1,161.3 3536.1,161.3 3544.1,161.2 3552,161.2 3560,161.2" fill="none" stroke="#c60a22" stroke-width="16.8" stroke-opacity="0.7" stroke-dasharray="62.2 26.9" stroke-dashoffset="3" stroke-linejoin="round"/>
</g>
<line x1="403.9" y1="2306.6" x2="403.9" y2="2240.1" stroke="#262626" stroke-width="8" stroke-linecap="butt" />
<line x1="403.9" y1="59.8" x2="403.9" y2="126.2" stroke="#262626" stroke-width="8" stroke-linecap="butt" />
<line x1="593" y1="2306.6" x2="593" y2="2273.1" stroke="#262626" stroke-width="4" stroke-linecap="butt" />
<line x1="593" y1="59.8" x2="593" y2="93.2" stroke="#262626" stroke-width="4" stroke-linecap="butt" />
<line x1="703.6" y1="2306.6" x2="703.6" y2="2273.1" stroke="#262626" stroke-width="4" stroke-linecap="butt" />
<line x1="703.6" y1="59.8" x2="703.6" y2="93.2" stroke="#262626" stroke-width="4" stroke-linecap="butt" />
<line x1="782.1" y1="2306.6" x2="782.1" y2="2273.1" stroke="#262626" stroke-width="4" stroke-linecap="butt" />
<line x1="782.1" y1="59.8" x2="782.1" y2="93.2" stroke="#262626" stroke-width="4" stroke-linecap="butt" />
<line x1="843" y1="2306.6" x2="843" y2="2273.1" stroke="#262626" stroke-width="4" stroke-linecap="butt" />
<line x1="843" y1="59.8" x2="843" y2="93.2" stroke="#262626" stroke-width="4" stroke-linecap="butt" />
<line x1="892.7" y1="2306.6" x2="892.7" y2="2273.1" stroke="#262626" stroke-width="4" stroke-linecap="butt" />
<line x1="892.7" y1="59.8" x2="892.7" y2="93.2" stroke="#262626" stroke-width="4" stroke-linecap="butt" />
<line x1="934.8" y1="2306.6" x2="934.8" y2="2273.1" stroke="#262626" stroke-width="4" stroke-linecap="butt" />
<line x1="934.8" y1="59.8" x2="934.8" y2="93.2" stroke="#262626" stroke-width="4" stroke-linecap="butt" />
<line x1="971.2" y1="2306.6" x2="971.2" y2="2273.1" stroke="#262626" stroke-width="4" stroke-linecap="butt" />
<line x1="971.2" y1="59.8" x2="971.2" y2="93.2" stroke="#262626" stroke-width="4" stroke-linecap="butt" />
<line x1="1003.4" y1="2306.6" x2="1003.4" y2="2273.1" stroke="#262626" stroke-width="4" stroke-linecap="butt" />
<line x1="1003.4" y1="59.8" x2="1003.4" y2="93.2" stroke="#262626" stroke-width="4" stroke-linecap="butt" />
<line x1="1032.1" y1="2306.6" x2="1032.1" y2="2240.1" stroke="#262626" stroke-width="8" stroke-linecap="butt" />
<line x1="1032.1" y1="59.8" x2="1032.1" y2="126.2" stroke="#262626" stroke-width="8" stroke-linecap="butt" />
<line x1="1221.2" y1="2306.6" x2="1221.2" y2="2273.1" stroke="#262626" stroke-width="4" stroke-linecap="butt" />
<line x1="1221.2" y1="59.8" x2="1221.2" y2="93.2" stroke="#262626" stroke-width="4" stroke-linecap="butt" />
<line x1="1331.8" y1="2306.6" x2="1331.8" y2="2273.1" stroke="#262626" stroke-width="4" stroke-linecap="butt" />
<line x1="1331.8" y1="59.8" x2="1331.8" y2="93.2" stroke="#262626" stroke-width="4" stroke-linecap="butt" />
<line x1="1410.3" y1="2306.6" x2="1410.3" y2="2273.1" stroke="#262626" stroke-width="4" stroke-linecap="butt" />
<line x1="1410.3" y1="59.8" x2="1410.3" y2="93.2" stroke="#262626" stroke-width="4" stroke-linecap="butt" />
<line x1="1471.2" y1="2306.6" x2="1471.2" y2="2273.1" stroke="#262626" stroke-width="4" stroke-linecap="butt" />
<line x1="1471.2" y1="59.8" x2="1471.2" y2="93.2" stroke="#262626" stroke-width="4" stroke-linecap="butt" />
<line x1="1520.9" y1="2306.6" x2="1520.9" y2="2273.1" stroke="#262626" stroke-width="4" stroke-linecap="butt" />
<line x1="1520.9" y1="59.8" x2="1520.9" y2="93.2" stroke="#262626" stroke-width="4" stroke-linecap="butt" />
<line x1="1563" y1="2306.6" x2="1563" y2="2273.1" stroke="#262626" stroke-width="4" stroke-linecap="butt" />
<line x1="1563" y1="59.8" x2="1563" y2="93.2" stroke="#262626" stroke-width="4" stroke-linecap="butt" />
<line x1="1599.4" y1="2306.6" x2="1599.4" y2="2273.1" stroke="#262626" stroke-width="4" stroke-linecap="butt" />
<line x1="1599.4" y1="59.8" x2="1599.4" y2="93.2" stroke="#262626" stroke-width="4" stroke-linecap="butt" />
<line x1="1631.6" y1="2306.6" x2="1631.6" y2="2273.1" stroke="#262626" stroke-width="4" stroke-linecap="butt" />
<line x1="1631.6" y1="59.8" x2="1631.6" y2="93.2" stroke="#262626" stroke-width="4" stroke-linecap="butt" />
<line x1="1660.3" y1="2306.6" x2="1660.3" y2="2240.1" stroke="#262626" stroke-width="8" stroke-linecap="butt" />
<line x1="1660.3" y1="59.8" x2="1660.3" y2="126.2" stroke="#262626" stroke-width="8" stroke-linecap="butt" />
<line x1="1849.4" y1="2306.6" x2="1849.4" y2="2273.1" stroke="#262626" stroke-width="4" stroke-linecap="butt" />
<line x1="1849.4" y1="59.8" x2="1849.4" y2="93.2" stroke="#262626" stroke-width="4" stroke-linecap="butt" />
<line x1="1960" y1="2306.6" x2="1960" y2="2273.1" stroke="#262626" stroke-width="4" stroke-linecap="butt" />
<line x1="1960" y1="59.8" x2="1960" y2="93.2" stroke="#262626" stroke-width="4" stroke-linecap="butt" />
<line x1="2038.5" y1="2306.6" x2="2038.5" y2="2273.1" stroke="#262626" stroke-width="4" stroke-linecap="butt" />
<line x1="2038.5" y1="59.8" x2="2038.5" y2="93.2" stroke="#262626" stroke-width="4" stroke-linecap="butt" />
<line x1="2099.4" y1="2306.6" x2="2099.4" y2="2273.1" stroke="#262626" stroke-width="4" stroke-linecap="butt" />
<line x1="2099.4" y1="59.8" x2="2099.4" y2="93.2" stroke="#262626" stroke-width="4" stroke-linecap="butt" />
<line x1="2149.1" y1="2306.6" x2="2149.1" y2="2273.1" stroke="#262626" stroke-width="4" stroke-linecap="butt" />
<line x1="2149.1" y1="59.8" x2="2149.1" y2="93.2" stroke="#262626" stroke-width="4" stroke-linecap="butt" />
<line x1="2191.2" y1="2306.6" x2="2191.2" y2="2273.1" stroke="#262626" stroke-width="4" stroke-linecap="butt" />
<line x1="2191.2" y1="59.8" x2="2191.2" y2="93.2" stroke="#262626" stroke-width="4" stroke-linecap="butt" />
<line x1="2227.6" y1="2306.6" x2="2227.6" y2="2273.1" stroke="#262626" stroke-width="4" stroke-linecap="butt" />
<line x1="2227.6" y1="59.8" x2="2227.6" y2="93.2" stroke="#262626" stroke-width="4" stroke-linecap="butt" />
<line x1="2259.8" y1="2306.6" x2="2259.8" y2="2273.1" stroke="#262626" stroke-width="4" stroke-linecap="butt" />
<line x1="2259.8" y1="59.8" x2="2259.8" y2="93.2" stroke="#262626" stroke-width="4" stroke-linecap="butt" />
<line x1="2288.5" y1="2306.6" x2="2288.5" y2="2240.1" stroke="#262626" stroke-width="8" stroke-linecap="butt" />
<line x1="2288.5" y1="59.8" x2="2288.5" y2="126.2" stroke="#262626" stroke-width="8" stroke-linecap="butt" />
<line x1="2477.6" y1="2306.6" x2="2477.6" y2="2273.1" stroke="#262626" stroke-width="4" stroke-linecap="butt" />
<line x1="2477.6" y1="59.8" x2="2477.6" y2="93.2" stroke="#262626" stroke-width="4" stroke-linecap="butt" />
<line x1="2588.2" y1="2306.6" x2="2588.2" y2="2273.1" stroke="#262626" stroke-width="4" stroke-linecap="butt" />
<line x1="2588.2" y1="59.8" x2="2588.2" y2="93.2" stroke="#262626" stroke-width="4" stroke-linecap="butt" />
<line x1="2666.7" y1="2306.6" x2="2666.7" y2="2273.1" stroke="#262626" stroke-width="4" stroke-linecap="butt" />
<line x1="2666.7" y1="59.8" x2="2666.7" y2="93.2" stroke="#262626" stroke-width="4" stroke-linecap="butt" />
<line x1="2727.6" y1="2306.6" x2="2727.6" y2="2273.1" stroke="#262626" stroke-width="4" stroke-linecap="butt" />
<line x1="2727.6" y1="59.8" x2="2727.6" y2="93.2" stroke="#262626" stroke-width="4" stroke-linecap="butt" />
<line x1="2777.3" y1="2306.6" x2="2777.3" y2="2273.1" stroke="#262626" stroke-width="4" stroke-linecap="butt" />
<line x1="2777.3" y1="59.8" x2="2777.3" y2="93.2" stroke="#262626" stroke-width="4" stroke-linecap="butt" />
<line x1="2819.4" y1="2306.6" x2="2819.4" y2="2273.1" stroke="#262626" stroke-width="4" stroke-linecap="butt" />
<line x1="2819.4" y1="59.8" x2="2819.4" y2="93.2" stroke="#262626" stroke-width="4" stroke-linecap="butt" />
<line x1="2855.8" y1="2306.6" x2="2855.8" y2="2273.1" stroke="#262626" stroke-width="4" stroke-linecap="butt" />
<line x1="2855.8" y1="59.8" x2="2855.8" y2="93.2" stroke="#262626" stroke-width="4" stroke-linecap="butt" />
<line x1="2888" y1="2306.6" x2="2888" y2="2273.1" stroke="#262626" stroke-width="4" stroke-linecap="butt" />
<line x1="2888" y1="59.8" x2="2888" y2="93.2" stroke="#262626" stroke-width="4" stroke-linecap="butt" />
<line x1="2916.7" y1="2306.6" x2="2916.7" y2="2240.1" stroke="#262626" stroke-width="8" stroke-linecap="butt" />
<line x1="2916.7" y1="59.8" x2="2916.7" y2="126.2" stroke="#262626" stroke-width="8" stroke-linecap="butt" />
<line x1="3105.8" y1="2306.6" x2="3105.8" y2="2273.1" stroke="#262626" stroke-width="4" stroke-linecap="butt" />
<line x1="3105.8" y1="59.8" x2="3105.8" y2="93.2" stroke="#262626" stroke-width="4" stroke-linecap="butt" />
<line x1="3216.4" y1="2306.6" x2="3216.4" y2="2273.1" stroke="#262626" stroke-width="4" stroke-linecap="butt" />
<line x1="3216.4" y1="59.8" x2="3216.4" y2="93.2" stroke="#262626" stroke-width="4" stroke-linecap="butt" />
<line x1="3294.9" y1="2306.6" x2="3294.9" y2="2273.1" stroke="#262626" stroke-width="4" stroke-linecap="butt" />
<line x1="3294.9" y1="59.8" x2="3294.9" y2="93.2" stroke="#262626" stroke-width="4" stroke-linecap="butt" />
<line x1="3355.8" y1="2306.6" x2="3355.8" y2="2273.1" stroke="#262626" stroke-width="4" stroke-linecap="butt" />
<line x1="3355.8" y1="59.8" x2="3355.8" y2="93.2" stroke="#262626" stroke-width="4" stroke-linecap="butt" />
<line x1="3405.5" y1="2306.6" x2="3405.5" y2="2273.1" stroke="#262626" stroke-width="4" stroke-linecap="butt" />
<line x1="3405.5" y1="59.8" x2="3405.5" y2="93.2" stroke="#262626" stroke-width="4" stroke-linecap="butt" />
<line x1="3447.6" y1="2306.6" x2="3447.6" y2="2273.1" stroke="#262626" stroke-width="4" stroke-linecap="butt" />
<line x1="3447.6" y1="59.8" x2="3447.6" y2="93.2" stroke="#262626" stroke-width="4" stroke-linecap="butt" />
<line x1="3484" y1="2306.6" x2="3484" y2="2273.1" stroke="#262626" stroke-width="4" stroke-linecap="butt" />
<line x1="3484" y1="59.8" x2="3484" y2="93.2" stroke="#262626" stroke-width="4" stroke-linecap="butt" />
<line x1="3516.2" y1="2306.6" x2="3516.2" y2="2273.1" stroke="#262626" stroke-width="4" stroke-linecap="butt" />
<line x1="3516.2" y1="59.8" x2="3516.2" y2="93.2" stroke="#262626" stroke-width="4" stroke-linecap="butt" />
<line x1="3544.9" y1="2306.6" x2="3544.9" y2="2240.1" stroke="#262626" stroke-width="8" stroke-linecap="butt" />
<line x1="3544.9" y1="59.8" x2="3544.9" y2="126.2" stroke="#262626" stroke-width="8" stroke-linecap="butt" />
<line x1="403.9" y1="2204.5" x2="470.4" y2="2204.5" stroke="#262626" stroke-width="8" stroke-linecap="butt" />
<line x1="3545" y1="2204.5" x2="3478.5" y2="2204.5" stroke="#262626" stroke-width="8" stroke-linecap="butt" />
<line x1="403.9" y1="1864" x2="470.4" y2="1864" stroke="#262626" stroke-width="8" stroke-linecap="butt" />
<line x1="3545" y1="1864" x2="3478.5" y2="1864" stroke="#262626" stroke-width="8" stroke-linecap="butt" />
<line x1="403.9" y1="1523.6" x2="470.4" y2="1523.6" stroke="#262626" stroke-width="8" stroke-linecap="butt" />
<line x1="3545" y1="1523.6" x2="3478.5" y2="1523.6" stroke="#262626" stroke-width="8" stroke-linecap="butt" />
<line x1="403.9" y1="1183.2" x2="470.4" y2="1183.2" stroke="#262626" stroke-width="8" stroke-linecap="butt" />
<line x1="3545" y1="1183.2" x2="3478.5" y2="1183.2" stroke="#262626" stroke-width="8" stroke-linecap="butt" />
<line x1="403.9" y1="842.7" x2="470.4" y2="842.7" stroke="#262626" stroke-width="8" stroke-linecap="butt" />
<line x1="3545" y1="842.7" x2="3478.5" y2="842.7" stroke="#262626" stroke-width="8" stroke-linecap="butt" />
<line x1="403.9" y1="502.2" x2="470.4" y2="502.2" stroke="#262626" stroke-width="8" stroke-linecap="butt" />
<line x1="3545" y1="502.2" x2="3478.5" y2="502.2" stroke="#262626" stroke-width="8" stroke-linecap="butt" />
<line x1="403.9" y1="161.8" x2="470.4" y2="161.8" stroke="#262626" stroke-width="8" stroke-linecap="butt" />
<line x1="3545" y1="161.8" x2="3478.5" y2="161.8" stroke="#262626" stroke-width="8" stroke-linecap="butt" />
<g clip-path="url(#cTop)">
<polyline points="2290,2340 2290.5,2150 2292,2011.5 3560,1545" fill="none" stroke="#000" stroke-width="11.5" stroke-dasharray="22 24.5" stroke-linecap="round" stroke-linejoin="round" stroke-dashoffset="0"/>
</g>
<line x1="1471.3" y1="600.7" x2="1471.3" y2="558.7" stroke="#000" stroke-width="8.3" stroke-linecap="round" />
<line x1="1471.3" y1="690.7" x2="1471.3" y2="738.8" stroke="#000" stroke-width="8.3" stroke-linecap="round" />
<line x1="1437.5" y1="558.7" x2="1501.5" y2="558.7" stroke="#000" stroke-width="8.6" stroke-linecap="round" />
<line x1="1437.5" y1="738.8" x2="1501.5" y2="738.8" stroke="#000" stroke-width="8.6" stroke-linecap="round" />
<rect x="1399.3" y="600.7" width="128.9" height="90" fill="#c60a22" stroke="#000" stroke-width="8.6" stroke-linejoin="round"/>
<line x1="1399.3" y1="651.6" x2="1528.2" y2="651.6" stroke="#000" stroke-width="16.2" stroke-linecap="round" />
<line x1="1470.2" y1="813" x2="1470.2" y2="782.8" stroke="#000" stroke-width="8.3" stroke-linecap="round" />
<line x1="1470.2" y1="926.5" x2="1470.2" y2="945.8" stroke="#000" stroke-width="8.3" stroke-linecap="round" />
<line x1="1437.5" y1="782.8" x2="1501.5" y2="782.8" stroke="#000" stroke-width="8.6" stroke-linecap="round" />
<line x1="1437.5" y1="945.8" x2="1501.5" y2="945.8" stroke="#000" stroke-width="8.6" stroke-linecap="round" />
<rect x="1399.2" y="813" width="128.5" height="113.5" fill="#f03f27" stroke="#000" stroke-width="8.6" stroke-linejoin="round"/>
<line x1="1399.2" y1="869" x2="1527.7" y2="869" stroke="#000" stroke-width="16.2" stroke-linecap="round" />
<line x1="1959.8" y1="1024.2" x2="1959.8" y2="996.1" stroke="#000" stroke-width="8.3" stroke-linecap="round" />
<line x1="1959.8" y1="1112.8" x2="1959.8" y2="1149.1" stroke="#000" stroke-width="8.3" stroke-linecap="round" />
<line x1="1926" y1="996.1" x2="1990" y2="996.1" stroke="#000" stroke-width="8.6" stroke-linecap="round" />
<line x1="1926" y1="1149.1" x2="1990" y2="1149.1" stroke="#000" stroke-width="8.6" stroke-linecap="round" />
<rect x="1888.4" y="1024.2" width="128.2" height="88.6" fill="#fc8d3d" stroke="#000" stroke-width="8.6" stroke-linejoin="round"/>
<line x1="1888.4" y1="1070.7" x2="2016.6" y2="1070.7" stroke="#000" stroke-width="16.2" stroke-linecap="round" />
<line x1="2148.1" y1="1691.2" x2="2148.1" y2="1616.8" stroke="#000" stroke-width="8.3" stroke-linecap="round" />
<line x1="2148.1" y1="1792.1" x2="2148.1" y2="1897.2" stroke="#000" stroke-width="8.3" stroke-linecap="round" />
<line x1="2115.4" y1="1616.8" x2="2179.4" y2="1616.8" stroke="#000" stroke-width="8.6" stroke-linecap="round" />
<line x1="2115.4" y1="1897.2" x2="2179.4" y2="1897.2" stroke="#000" stroke-width="8.6" stroke-linecap="round" />
<rect x="2077.5" y="1691.2" width="128.5" height="100.9" fill="#fecb74" stroke="#000" stroke-width="8.6" stroke-linejoin="round"/>
<line x1="2077.5" y1="1754.8" x2="2206" y2="1754.8" stroke="#000" stroke-width="16.2" stroke-linecap="round" />
<line x1="1961.5" y1="1961.9" x2="1961.5" y2="1899.3" stroke="#000" stroke-width="8.3" stroke-linecap="round" />
<line x1="1961.5" y1="2044" x2="1961.5" y2="2103" stroke="#000" stroke-width="8.3" stroke-linecap="round" />
<line x1="1926" y1="1899.3" x2="1990" y2="1899.3" stroke="#000" stroke-width="8.6" stroke-linecap="round" />
<line x1="1926" y1="2103" x2="1990" y2="2103" stroke="#000" stroke-width="8.6" stroke-linecap="round" />
<rect x="1888.3" y="1961.9" width="128.5" height="82.1" fill="#fee593" stroke="#000" stroke-width="8.6" stroke-linejoin="round"/>
<line x1="1888.3" y1="1982.6" x2="2016.8" y2="1982.6" stroke="#000" stroke-width="16.2" stroke-linecap="round" />
<rect x="403.9" y="59.8" width="3141.1" height="2246.8" fill="none" stroke="#000" stroke-width="17" stroke-linejoin="miter"/>
<text transform="translate(345.3,2241.9) scale(1,1.04)" font-family="'Liberation Sans', Arial, sans-serif" font-size="104" text-anchor="end" fill="#262626" font-weight="normal" font-style="normal" >0.0</text>
<text transform="translate(345.3,1901.5) scale(1,1.04)" font-family="'Liberation Sans', Arial, sans-serif" font-size="104" text-anchor="end" fill="#262626" font-weight="normal" font-style="normal" >0.5</text>
<text transform="translate(345.3,1561) scale(1,1.04)" font-family="'Liberation Sans', Arial, sans-serif" font-size="104" text-anchor="end" fill="#262626" font-weight="normal" font-style="normal" >1.0</text>
<text transform="translate(345.3,1220.6) scale(1,1.04)" font-family="'Liberation Sans', Arial, sans-serif" font-size="104" text-anchor="end" fill="#262626" font-weight="normal" font-style="normal" >1.5</text>
<text transform="translate(345.3,880.1) scale(1,1.04)" font-family="'Liberation Sans', Arial, sans-serif" font-size="104" text-anchor="end" fill="#262626" font-weight="normal" font-style="normal" >2.0</text>
<text transform="translate(345.3,539.6) scale(1,1.04)" font-family="'Liberation Sans', Arial, sans-serif" font-size="104" text-anchor="end" fill="#262626" font-weight="normal" font-style="normal" >2.5</text>
<text transform="translate(345.3,199.2) scale(1,1.04)" font-family="'Liberation Sans', Arial, sans-serif" font-size="104" text-anchor="end" fill="#262626" font-weight="normal" font-style="normal" >3.0</text>
<text transform="translate(403.9,2470.5) scale(1,1.05)" font-family="'Liberation Sans', Arial, sans-serif" font-size="104" fill="#262626" text-anchor="middle">10<tspan font-size="73" dy="-68.5">−1</tspan></text>
<text transform="translate(1032.1,2470.5) scale(1,1.05)" font-family="'Liberation Sans', Arial, sans-serif" font-size="104" fill="#262626" text-anchor="middle">10<tspan font-size="73" dy="-68.5">0</tspan></text>
<text transform="translate(1660.3,2470.5) scale(1,1.05)" font-family="'Liberation Sans', Arial, sans-serif" font-size="104" fill="#262626" text-anchor="middle">10<tspan font-size="73" dy="-68.5">1</tspan></text>
<text transform="translate(2288.5,2470.5) scale(1,1.05)" font-family="'Liberation Sans', Arial, sans-serif" font-size="104" fill="#262626" text-anchor="middle">10<tspan font-size="73" dy="-68.5">2</tspan></text>
<text transform="translate(2916.7,2470.5) scale(1,1.05)" font-family="'Liberation Sans', Arial, sans-serif" font-size="104" fill="#262626" text-anchor="middle">10<tspan font-size="73" dy="-68.5">3</tspan></text>
<text transform="translate(3544.9,2470.5) scale(1,1.05)" font-family="'Liberation Sans', Arial, sans-serif" font-size="104" fill="#262626" text-anchor="middle">10<tspan font-size="73" dy="-68.5">4</tspan></text>
<text transform="translate(1974.5,2608.8) scale(1,1.04)" font-family="'Liberation Sans', Arial, sans-serif" font-size="115.5" text-anchor="middle" fill="#262626" font-weight="normal" font-style="normal" >Time in min</text>
<text transform="translate(144.3,1183.7) rotate(-90) scale(1,1.03)" font-family="'Liberation Sans', Arial, sans-serif" font-size="115.5" fill="#262626" text-anchor="middle">Voltage Shift in V</text>
<line x1="549.2" y1="3418.2" x2="549.2" y2="3353.9" stroke="#262626" stroke-width="8.2" stroke-linecap="butt" />
<line x1="549.2" y1="2806.3" x2="549.2" y2="2870.6" stroke="#262626" stroke-width="8.2" stroke-linecap="butt" />
<line x1="1119.8" y1="3418.2" x2="1119.8" y2="3353.9" stroke="#262626" stroke-width="8.2" stroke-linecap="butt" />
<line x1="1119.8" y1="2806.3" x2="1119.8" y2="2870.6" stroke="#262626" stroke-width="8.2" stroke-linecap="butt" />
<line x1="1690.5" y1="3418.2" x2="1690.5" y2="3353.9" stroke="#262626" stroke-width="8.2" stroke-linecap="butt" />
<line x1="1690.5" y1="2806.3" x2="1690.5" y2="2870.6" stroke="#262626" stroke-width="8.2" stroke-linecap="butt" />
<line x1="2261.1" y1="3418.2" x2="2261.1" y2="3353.9" stroke="#262626" stroke-width="8.2" stroke-linecap="butt" />
<line x1="2261.1" y1="2806.3" x2="2261.1" y2="2870.6" stroke="#262626" stroke-width="8.2" stroke-linecap="butt" />
<line x1="2831.8" y1="3418.2" x2="2831.8" y2="3353.9" stroke="#262626" stroke-width="8.2" stroke-linecap="butt" />
<line x1="2831.8" y1="2806.3" x2="2831.8" y2="2870.6" stroke="#262626" stroke-width="8.2" stroke-linecap="butt" />
<line x1="3402.4" y1="3418.2" x2="3402.4" y2="3353.9" stroke="#262626" stroke-width="8.2" stroke-linecap="butt" />
<line x1="3402.4" y1="2806.3" x2="3402.4" y2="2870.6" stroke="#262626" stroke-width="8.2" stroke-linecap="butt" />
<line x1="406.5" y1="3390.4" x2="470.8" y2="3390.4" stroke="#262626" stroke-width="8.2" stroke-linecap="butt" />
<line x1="3545.2" y1="3390.4" x2="3480.9" y2="3390.4" stroke="#262626" stroke-width="8.2" stroke-linecap="butt" />
<line x1="406.5" y1="3111.5" x2="470.8" y2="3111.5" stroke="#262626" stroke-width="8.2" stroke-linecap="butt" />
<line x1="3545.2" y1="3111.5" x2="3480.9" y2="3111.5" stroke="#262626" stroke-width="8.2" stroke-linecap="butt" />
<line x1="406.5" y1="2832.6" x2="470.8" y2="2832.6" stroke="#262626" stroke-width="8.2" stroke-linecap="butt" />
<line x1="3545.2" y1="2832.6" x2="3480.9" y2="2832.6" stroke="#262626" stroke-width="8.2" stroke-linecap="butt" />
<polygon points="1121.3,3392 1121.3,3374.7 1128.4,3373.7 1135.6,3372.7 1142.7,3371.6 1149.9,3370.5 1157,3369.4 1164.2,3368.1 1171.3,3366.9 1178.5,3365.5 1185.6,3364.2 1192.8,3362.7 1199.9,3361.2 1207.1,3359.6 1214.2,3358 1221.4,3356.3 1228.5,3354.5 1235.7,3352.7 1242.8,3350.8 1250,3348.8 1257.1,3346.7 1264.3,3344.6 1271.5,3342.3 1278.6,3340 1285.8,3337.6 1292.9,3335.2 1300.1,3332.6 1307.2,3329.9 1314.4,3327.2 1321.5,3324.4 1328.7,3321.4 1335.8,3318.4 1343,3315.3 1350.1,3312.1 1357.3,3308.8 1364.4,3305.3 1371.6,3301.8 1378.7,3298.2 1385.9,3294.5 1393,3290.6 1400.2,3286.7 1407.3,3282.7 1414.5,3278.5 1421.6,3274.3 1428.8,3269.9 1435.9,3265.4 1443.1,3260.9 1450.2,3256.2 1457.4,3251.4 1464.5,3246.5 1471.7,3241.5 1478.8,3236.4 1486,3231.2 1493.1,3225.9 1500.3,3220.5 1507.4,3215 1514.6,3209.4 1521.7,3203.7 1528.9,3197.9 1536,3192 1543.2,3186 1550.3,3180 1557.5,3173.8 1564.6,3167.6 1571.8,3161.3 1578.9,3154.9 1586.1,3148.4 1593.2,3141.9 1600.4,3135.3 1607.5,3128.7 1614.7,3122 1621.9,3115.2 1629,3108.4 1636.2,3101.6 1643.3,3094.7 1650.5,3087.8 1657.6,3080.9 1664.8,3073.9 1671.9,3067 1679.1,3060 1686.2,3053 1693.4,3046 1700.5,3039 1707.7,3032.1 1714.8,3025.2 1722,3018.2 1729.1,3011.4 1736.3,3004.5 1743.4,2997.8 1750.6,2991 1757.7,2984.4 1764.9,2977.8 1772,2971.2 1779.2,2964.8 1786.3,2958.5 1793.5,2952.2 1800.6,2946 1807.8,2940 1814.9,2934.1 1822.1,2928.3 1829.2,2922.6 1836.4,2917 1843.5,2911.6 1850.7,2906.4 1857.8,2901.3 1865,2896.3 1872.1,2891.6 1879.3,2887 1886.4,2882.6 1893.6,2878.3 1900.7,2874.3 1907.9,2870.4 1915,2866.8 1922.2,2863.3 1929.3,2860 1936.5,2857 1943.6,2854.2 1950.8,2851.6 1957.9,2849.2 1965.1,2847 1972.2,2845.1 1979.4,2843.4 1986.6,2842 1993.7,2840.7 2000.9,2839.7 2008,2839 2015.2,2838.4 2022.3,2838.2 2029.5,2838.1 2036.6,2838.3 2043.8,2838.7 2050.9,2839.4 2058.1,2840.3 2065.2,2841.5 2072.4,2842.9 2079.5,2844.5 2086.7,2846.3 2093.8,2848.4 2101,2850.7 2108.1,2853.2 2115.3,2856 2122.4,2858.9 2129.6,2862.1 2136.7,2865.5 2143.9,2869.1 2151,2872.8 2158.2,2876.8 2165.3,2881 2172.5,2885.3 2179.6,2889.9 2186.8,2894.6 2193.9,2899.5 2201.1,2904.5 2208.2,2909.7 2215.4,2915.1 2222.5,2920.5 2229.7,2926.2 2236.8,2931.9 2244,2937.8 2251.1,2943.8 2258.3,2949.9 2265.4,2956.2 2272.6,2962.5 2279.7,2968.9 2286.9,2975.4 2294,2982 2301.2,2988.6 2308.3,2995.3 2315.5,3002.1 2322.6,3008.9 2329.8,3015.7 2337,3022.6 2344.1,3029.6 2351.3,3036.5 2358.4,3043.5 2365.6,3050.5 2372.7,3057.4 2379.9,3064.4 2387,3071.4 2394.2,3078.3 2401.3,3085.3 2408.5,3092.2 2415.6,3099.1 2422.8,3105.9 2429.9,3112.8 2437.1,3119.5 2444.2,3126.2 2451.4,3132.9 2458.5,3139.5 2465.7,3146.1 2472.8,3152.5 2480,3159 2487.1,3165.3 2494.3,3171.5 2501.4,3177.7 2508.6,3183.8 2515.7,3189.8 2522.9,3195.7 2530,3201.6 2537.2,3207.3 2544.3,3213 2551.5,3218.5 2558.6,3223.9 2565.8,3229.3 2572.9,3234.5 2580.1,3239.7 2587.2,3244.7 2594.4,3249.6 2601.5,3254.5 2608.7,3259.2 2615.8,3263.8 2623,3268.3 2630.1,3272.7 2637.3,3277 2644.4,3281.2 2651.6,3285.2 2658.7,3289.2 2665.9,3293.1 2673,3296.8 2680.2,3300.5 2687.3,3304.1 2694.5,3307.5 2701.7,3310.9 2708.8,3314.1 2716,3317.3 2723.1,3320.3 2730.3,3323.3 2737.4,3326.2 2744.6,3329 2751.7,3331.6 2758.9,3334.2 2766,3336.7 2773.2,3339.2 2780.3,3341.5 2787.5,3343.8 2794.6,3345.9 2801.8,3348 2808.9,3350.1 2816.1,3352 2823.2,3353.9 2830.4,3355.7 2837.5,3357.4 2844.7,3359.1 2851.8,3360.6 2859,3362.2 2866.1,3363.6 2873.3,3365 2880.4,3366.4 2887.6,3367.7 2894.7,3368.9 2901.9,3370.1 2909,3371.2 2916.2,3372.3 2923.3,3373.4 2930.5,3374.3 2937.6,3375.3 2944.8,3376.2 2951.9,3377 2959.1,3377.8 2966.2,3378.6 2973.4,3379.4 2980.5,3380.1 2987.7,3380.7 2994.8,3381.4 3002,3382 3009.1,3382.6 3016.3,3383.1 3023.4,3383.6 3030.6,3384.1 3037.7,3384.6 3044.9,3385 3052.1,3385.4 3059.2,3385.8 3066.4,3386.2 3073.5,3386.6 3080.7,3386.9 3087.8,3387.2 3095,3387.5 3102.1,3387.8 3109.3,3388.1 3116.4,3388.3 3123.6,3388.5 3130.7,3388.8 3137.9,3389 3145,3389.2 3152.2,3389.4 3159.3,3389.5 3166.5,3389.7 3173.6,3389.8 3180.8,3390 3187.9,3390.1 3195.1,3390.3 3202.2,3390.4 3209.4,3390.5 3216.5,3390.6 3223.7,3390.7 3230.8,3390.8 3238,3390.9 3245.1,3390.9 3252.3,3391 3259.4,3391.1 3266.6,3391.2 3273.7,3391.2 3280.9,3391.3 3288,3391.3 3295.2,3391.4 3302.3,3391.4 3309.5,3391.5 3316.6,3391.5 3323.8,3391.5 3330.9,3391.6 3338.1,3391.6 3345.2,3391.6 3352.4,3391.7 3359.5,3391.7 3366.7,3391.7 3373.8,3391.7 3381,3391.8 3388.1,3391.8 3395.3,3391.8 3402.4,3391.8 3402.4,3392" fill="#4c72b0" fill-opacity="0.25" stroke="none"/>
<polyline points="549.2,3391.9 556.4,3391.9 563.5,3391.9 570.7,3391.9 577.8,3391.9 585,3391.9 592.1,3391.9 599.3,3391.9 606.4,3391.9 613.6,3391.9 620.7,3391.9 627.9,3391.9 635,3391.8 642.2,3391.8 649.3,3391.8 656.5,3391.8 663.6,3391.8 670.8,3391.8 677.9,3391.7 685.1,3391.7 692.2,3391.7 699.4,3391.7 706.5,3391.6 713.7,3391.6 720.8,3391.6 728,3391.6 735.1,3391.5 742.3,3391.5 749.4,3391.4 756.6,3391.4 763.7,3391.3 770.9,3391.3 778,3391.2 785.2,3391.2 792.3,3391.1 799.5,3391 806.6,3391 813.8,3390.9 820.9,3390.8 828.1,3390.7 835.2,3390.6 842.4,3390.5 849.5,3390.4 856.7,3390.3 863.8,3390.2 871,3390 878.1,3389.9 885.3,3389.8 892.4,3389.6 899.6,3389.4 906.8,3389.2 913.9,3389 921.1,3388.8 928.2,3388.6 935.4,3388.4 942.5,3388.1 949.7,3387.9 956.8,3387.6 964,3387.3 971.1,3387 978.3,3386.7 985.4,3386.3 992.6,3386 999.7,3385.6 1006.9,3385.2 1014,3384.7 1021.2,3384.3 1028.3,3383.8 1035.5,3383.3 1042.6,3382.8 1049.8,3382.2 1056.9,3381.6 1064.1,3381 1071.2,3380.3 1078.4,3379.6 1085.5,3378.9 1092.7,3378.1 1099.8,3377.3 1107,3376.5 1114.1,3375.6 1121.3,3374.7 1128.4,3373.7 1135.6,3372.7 1142.7,3371.6 1149.9,3370.5 1157,3369.4 1164.2,3368.1 1171.3,3366.9 1178.5,3365.5 1185.6,3364.2 1192.8,3362.7 1199.9,3361.2 1207.1,3359.6 1214.2,3358 1221.4,3356.3 1228.5,3354.5 1235.7,3352.7 1242.8,3350.8 1250,3348.8 1257.1,3346.7 1264.3,3344.6 1271.5,3342.3 1278.6,3340 1285.8,3337.6 1292.9,3335.2 1300.1,3332.6 1307.2,3329.9 1314.4,3327.2 1321.5,3324.4 1328.7,3321.4 1335.8,3318.4 1343,3315.3 1350.1,3312.1 1357.3,3308.8 1364.4,3305.3 1371.6,3301.8 1378.7,3298.2 1385.9,3294.5 1393,3290.6 1400.2,3286.7 1407.3,3282.7 1414.5,3278.5 1421.6,3274.3 1428.8,3269.9 1435.9,3265.4 1443.1,3260.9 1450.2,3256.2 1457.4,3251.4 1464.5,3246.5 1471.7,3241.5 1478.8,3236.4 1486,3231.2 1493.1,3225.9 1500.3,3220.5 1507.4,3215 1514.6,3209.4 1521.7,3203.7 1528.9,3197.9 1536,3192 1543.2,3186 1550.3,3180 1557.5,3173.8 1564.6,3167.6 1571.8,3161.3 1578.9,3154.9 1586.1,3148.4 1593.2,3141.9 1600.4,3135.3 1607.5,3128.7 1614.7,3122 1621.9,3115.2 1629,3108.4 1636.2,3101.6 1643.3,3094.7 1650.5,3087.8 1657.6,3080.9 1664.8,3073.9 1671.9,3067 1679.1,3060 1686.2,3053 1693.4,3046 1700.5,3039 1707.7,3032.1 1714.8,3025.2 1722,3018.2 1729.1,3011.4 1736.3,3004.5 1743.4,2997.8 1750.6,2991 1757.7,2984.4 1764.9,2977.8 1772,2971.2 1779.2,2964.8 1786.3,2958.5 1793.5,2952.2 1800.6,2946 1807.8,2940 1814.9,2934.1 1822.1,2928.3 1829.2,2922.6 1836.4,2917 1843.5,2911.6 1850.7,2906.4 1857.8,2901.3 1865,2896.3 1872.1,2891.6 1879.3,2887 1886.4,2882.6 1893.6,2878.3 1900.7,2874.3 1907.9,2870.4 1915,2866.8 1922.2,2863.3 1929.3,2860 1936.5,2857 1943.6,2854.2 1950.8,2851.6 1957.9,2849.2 1965.1,2847 1972.2,2845.1 1979.4,2843.4 1986.6,2842 1993.7,2840.7 2000.9,2839.7 2008,2839 2015.2,2838.4 2022.3,2838.2 2029.5,2838.1 2036.6,2838.3 2043.8,2838.7 2050.9,2839.4 2058.1,2840.3 2065.2,2841.5 2072.4,2842.9 2079.5,2844.5 2086.7,2846.3 2093.8,2848.4 2101,2850.7 2108.1,2853.2 2115.3,2856 2122.4,2858.9 2129.6,2862.1 2136.7,2865.5 2143.9,2869.1 2151,2872.8 2158.2,2876.8 2165.3,2881 2172.5,2885.3 2179.6,2889.9 2186.8,2894.6 2193.9,2899.5 2201.1,2904.5 2208.2,2909.7 2215.4,2915.1 2222.5,2920.5 2229.7,2926.2 2236.8,2931.9 2244,2937.8 2251.1,2943.8 2258.3,2949.9 2265.4,2956.2 2272.6,2962.5 2279.7,2968.9 2286.9,2975.4 2294,2982 2301.2,2988.6 2308.3,2995.3 2315.5,3002.1 2322.6,3008.9 2329.8,3015.7 2337,3022.6 2344.1,3029.6 2351.3,3036.5 2358.4,3043.5 2365.6,3050.5 2372.7,3057.4 2379.9,3064.4 2387,3071.4 2394.2,3078.3 2401.3,3085.3 2408.5,3092.2 2415.6,3099.1 2422.8,3105.9 2429.9,3112.8 2437.1,3119.5 2444.2,3126.2 2451.4,3132.9 2458.5,3139.5 2465.7,3146.1 2472.8,3152.5 2480,3159 2487.1,3165.3 2494.3,3171.5 2501.4,3177.7 2508.6,3183.8 2515.7,3189.8 2522.9,3195.7 2530,3201.6 2537.2,3207.3 2544.3,3213 2551.5,3218.5 2558.6,3223.9 2565.8,3229.3 2572.9,3234.5 2580.1,3239.7 2587.2,3244.7 2594.4,3249.6 2601.5,3254.5 2608.7,3259.2 2615.8,3263.8 2623,3268.3 2630.1,3272.7 2637.3,3277 2644.4,3281.2 2651.6,3285.2 2658.7,3289.2 2665.9,3293.1 2673,3296.8 2680.2,3300.5 2687.3,3304.1 2694.5,3307.5 2701.7,3310.9 2708.8,3314.1 2716,3317.3 2723.1,3320.3 2730.3,3323.3 2737.4,3326.2 2744.6,3329 2751.7,3331.6 2758.9,3334.2 2766,3336.7 2773.2,3339.2 2780.3,3341.5 2787.5,3343.8 2794.6,3345.9 2801.8,3348 2808.9,3350.1 2816.1,3352 2823.2,3353.9 2830.4,3355.7 2837.5,3357.4 2844.7,3359.1 2851.8,3360.6 2859,3362.2 2866.1,3363.6 2873.3,3365 2880.4,3366.4 2887.6,3367.7 2894.7,3368.9 2901.9,3370.1 2909,3371.2 2916.2,3372.3 2923.3,3373.4 2930.5,3374.3 2937.6,3375.3 2944.8,3376.2 2951.9,3377 2959.1,3377.8 2966.2,3378.6 2973.4,3379.4 2980.5,3380.1 2987.7,3380.7 2994.8,3381.4 3002,3382 3009.1,3382.6 3016.3,3383.1 3023.4,3383.6 3030.6,3384.1 3037.7,3384.6 3044.9,3385 3052.1,3385.4 3059.2,3385.8 3066.4,3386.2 3073.5,3386.6 3080.7,3386.9 3087.8,3387.2 3095,3387.5 3102.1,3387.8 3109.3,3388.1 3116.4,3388.3 3123.6,3388.5 3130.7,3388.8 3137.9,3389 3145,3389.2 3152.2,3389.4 3159.3,3389.5 3166.5,3389.7 3173.6,3389.8 3180.8,3390 3187.9,3390.1 3195.1,3390.3 3202.2,3390.4 3209.4,3390.5 3216.5,3390.6 3223.7,3390.7 3230.8,3390.8 3238,3390.9 3245.1,3390.9 3252.3,3391 3259.4,3391.1 3266.6,3391.2 3273.7,3391.2 3280.9,3391.3 3288,3391.3 3295.2,3391.4 3302.3,3391.4 3309.5,3391.5 3316.6,3391.5 3323.8,3391.5 3330.9,3391.6 3338.1,3391.6 3345.2,3391.6 3352.4,3391.7 3359.5,3391.7 3366.7,3391.7 3373.8,3391.7 3381,3391.8 3388.1,3391.8 3395.3,3391.8 3402.4,3391.8" fill="none" stroke="#000" stroke-width="24.5" stroke-linecap="round" stroke-linejoin="round"/>
<rect x="406.5" y="2806.3" width="3138.7" height="611.9" fill="none" stroke="#000" stroke-width="16.6"/>
<text transform="translate(549.2,3546.4) scale(1,1.04)" font-family="'Liberation Sans', Arial, sans-serif" font-size="99" text-anchor="middle" fill="#262626" font-weight="normal" font-style="normal" >0.0</text>
<text transform="translate(1119.8,3546.4) scale(1,1.04)" font-family="'Liberation Sans', Arial, sans-serif" font-size="99" text-anchor="middle" fill="#262626" font-weight="normal" font-style="normal" >0.5</text>
<text transform="translate(1690.5,3546.4) scale(1,1.04)" font-family="'Liberation Sans', Arial, sans-serif" font-size="99" text-anchor="middle" fill="#262626" font-weight="normal" font-style="normal" >1.0</text>
<text transform="translate(2261.1,3546.4) scale(1,1.04)" font-family="'Liberation Sans', Arial, sans-serif" font-size="99" text-anchor="middle" fill="#262626" font-weight="normal" font-style="normal" >1.5</text>
<text transform="translate(2831.8,3546.4) scale(1,1.04)" font-family="'Liberation Sans', Arial, sans-serif" font-size="99" text-anchor="middle" fill="#262626" font-weight="normal" font-style="normal" >2.0</text>
<text transform="translate(3402.4,3546.4) scale(1,1.04)" font-family="'Liberation Sans', Arial, sans-serif" font-size="99" text-anchor="middle" fill="#262626" font-weight="normal" font-style="normal" >2.5</text>
<text transform="translate(350,3425.9) scale(1,1.04)" font-family="'Liberation Sans', Arial, sans-serif" font-size="99" text-anchor="end" fill="#262626" font-weight="normal" font-style="normal" >0</text>
<text transform="translate(350,3147) scale(1,1.04)" font-family="'Liberation Sans', Arial, sans-serif" font-size="99" text-anchor="end" fill="#262626" font-weight="normal" font-style="normal" >1</text>
<text transform="translate(350,2868.1) scale(1,1.04)" font-family="'Liberation Sans', Arial, sans-serif" font-size="99" text-anchor="end" fill="#262626" font-weight="normal" font-style="normal" >2</text>
<text transform="translate(1975.8,3679.3) scale(1,1.04)" font-family="'Liberation Sans', Arial, sans-serif" font-size="110.7" text-anchor="middle" fill="#262626" font-weight="normal" font-style="normal" >Energy Barrier in eV</text>
<text transform="translate(240,3120) rotate(-90) scale(1,1.03)" font-family="'Liberation Sans', Arial, sans-serif" font-size="107.8" fill="#262626" text-anchor="middle">Denstiy in 1</text>
<text x="566" y="290.2" font-family="'Liberation Serif', 'Times New Roman', serif" font-size="102" text-anchor="start" fill="#000" font-weight="bold" font-style="normal" textLength="290" lengthAdjust="spacingAndGlyphs">Fit of </text>
<text x="900" y="290.2" font-family="'Liberation Serif', 'Times New Roman', serif" font-size="102" text-anchor="start" fill="#000" font-weight="bold" font-style="normal" textLength="78" lengthAdjust="spacingAndGlyphs"><tspan font-style="italic">V</tspan></text>
<text x="968" y="308.9" font-family="'Liberation Serif', 'Times New Roman', serif" font-size="70" text-anchor="start" fill="#000" font-weight="bold" font-style="normal" textLength="95" lengthAdjust="spacingAndGlyphs">FB</text>
<text x="1066" y="290.2" font-family="'Liberation Serif', 'Times New Roman', serif" font-size="102" text-anchor="start" fill="#000" font-weight="bold" font-style="normal" textLength="560" lengthAdjust="spacingAndGlyphs">-Shift Data</text>
<line x1="575.4" y1="433.2" x2="752.8" y2="433.2" stroke="#000" stroke-width="11.6" stroke-dasharray="35.8 35"/>
<text x="815.5" y="462.1" font-family="'Liberation Serif', 'Times New Roman', serif" font-size="100" text-anchor="start" fill="#000" font-weight="normal" font-style="normal" textLength="260" lengthAdjust="spacingAndGlyphs">model</text>
<text x="1407.9" y="492.2" font-family="'Liberation Serif', 'Times New Roman', serif" font-size="104" fill="#000"><tspan font-style="italic">P</tspan><tspan font-size="67" dy="20.5">54</tspan></text>
<text x="1409.7" y="1055.1" font-family="'Liberation Serif', 'Times New Roman', serif" font-size="104" fill="#000"><tspan font-style="italic">P</tspan><tspan font-size="67" dy="20.5">51</tspan></text>
<text x="1921.7" y="944.7" font-family="'Liberation Serif', 'Times New Roman', serif" font-size="104" fill="#000"><tspan font-style="italic">P</tspan><tspan font-size="67" dy="20.5">4</tspan></text>
<text x="2105.7" y="1568.6" font-family="'Liberation Serif', 'Times New Roman', serif" font-size="104" fill="#000"><tspan font-style="italic">P</tspan><tspan font-size="67" dy="20.5">3</tspan></text>
<text x="1909.9" y="2199.4" font-family="'Liberation Serif', 'Times New Roman', serif" font-size="104" fill="#000"><tspan font-style="italic">P</tspan><tspan font-size="67" dy="20.5">2</tspan></text>
<text transform="translate(926.5,1145) rotate(-50.4)" font-family="'Liberation Serif', 'Times New Roman', serif" font-size="100" text-anchor="start" fill="#c60a22" font-weight="normal" font-style="normal"><tspan font-style="italic">T</tspan><tspan dx="15"> =</tspan><tspan dx="22"> 1100°C</tspan></text>
<text transform="translate(985.5,1613.5) rotate(-48.2)" font-family="'Liberation Serif', 'Times New Roman', serif" font-size="100" text-anchor="start" fill="#f03f27" font-weight="normal" font-style="normal"><tspan font-style="italic">T</tspan><tspan dx="15"> =</tspan><tspan dx="22"> 1000°C</tspan></text>
<text transform="translate(1315,1601) rotate(-41.6)" font-family="'Liberation Serif', 'Times New Roman', serif" font-size="100" text-anchor="start" fill="#fc8d3d" font-weight="normal" font-style="normal"><tspan font-style="italic">T</tspan><tspan dx="15"> =</tspan><tspan dx="22"> 800°C</tspan></text>
<text transform="translate(1492,1948) rotate(-24.4)" font-family="'Liberation Serif', 'Times New Roman', serif" font-size="100" text-anchor="start" fill="#ffa40a" font-weight="normal" font-style="normal"><tspan font-style="italic">T</tspan><tspan dx="15"> =</tspan><tspan dx="22"> 500°C</tspan></text>
<line x1="3054" y1="1329.9" x2="1972" y2="256" stroke="#000" stroke-width="10"/>
<path d="M1929,213.7 L2007.2,249.3 Q1985,252 1974,262 Q1966,273 1965.2,290.9 Z" fill="#000" stroke="#000" stroke-width="4" stroke-linejoin="round"/>
<path d="M1929,213.7 L2007.2,249.3 Q1985,252 1974,262 Q1966,273 1965.2,290.9 Z" transform="translate(1962,250) scale(0.8) translate(-1962,-250)" fill="none" stroke="#fff" stroke-width="1.25" stroke-dasharray="2.75 2.25" stroke-linejoin="round" opacity="0.9"/>
<text transform="translate(2198,418) rotate(44.8)" font-family="'Liberation Serif', 'Times New Roman', serif" font-size="100" text-anchor="start" fill="#000" font-weight="normal" font-style="normal" textLength="1012" lengthAdjust="spacingAndGlyphs">increasing Temperature</text>
<text transform="translate(2470,1897) rotate(-20.5)" font-family="'Liberation Serif', 'Times New Roman', serif" font-size="86" text-anchor="start" fill="#000" font-weight="normal" font-style="normal" textLength="1000" lengthAdjust="spacingAndGlyphs">model parameters (best fit)</text>
<text x="3413" y="1905.6" font-family="'Liberation Serif', 'Times New Roman', serif" font-size="82" text-anchor="end" fill="#000" font-weight="normal" font-style="normal" textLength="420" lengthAdjust="spacingAndGlyphs"><tspan font-style="italic">E</tspan><tspan font-size="58" dy="13">B</tspan><tspan dy="-13"> = 1.3 eV</tspan></text>
<text x="3413" y="2022.2" font-family="'Liberation Serif', 'Times New Roman', serif" font-size="82" text-anchor="end" fill="#000" font-weight="normal" font-style="normal" textLength="366" lengthAdjust="spacingAndGlyphs"><tspan font-style="italic">σ</tspan> = 0.3 eV</text>
<text x="3410" y="2134" font-family="'Liberation Serif', 'Times New Roman', serif" font-size="82" text-anchor="end" fill="#000" font-weight="normal" font-style="normal" textLength="380" lengthAdjust="spacingAndGlyphs"><tspan font-style="italic">τ</tspan><tspan font-size="58" dy="12">0</tspan><tspan dy="-12"> = 10</tspan><tspan font-size="58" dy="-40">−3</tspan><tspan dy="40"> s</tspan></text>
<text x="2452" y="2137.8" font-family="'Liberation Serif', 'Times New Roman', serif" font-size="82" text-anchor="start" fill="#000" font-weight="normal" font-style="normal" textLength="448" lengthAdjust="spacingAndGlyphs">Δ<tspan font-style="italic">V</tspan><tspan font-size="58" dy="12">max</tspan><tspan dy="-12"> = 3 V</tspan></text>
<polyline points="3108,2215 3108,2957.7 2668,3075" fill="none" stroke="#000" stroke-width="5"/>
<path d="M2630.8,3085 L2670,3057.6 Q2664,3068 2666,3078 Q2671,3086 2679.7,3090.8 Z" fill="#000" stroke="#000" stroke-width="4" stroke-linejoin="round"/>
<path d="M2630.8,3085 L2670,3057.6 Q2664,3068 2666,3078 Q2671,3086 2679.7,3090.8 Z" transform="translate(2657,3078) scale(0.75) translate(-2657,-3078)" fill="none" stroke="#fff" stroke-width="1.33" stroke-dasharray="2.93 2.40" stroke-linejoin="round" opacity="0.9"/>
<circle cx="3108" cy="2208.8" r="15.5" fill="#000"/><circle cx="3108" cy="2208.8" r="10.5" fill="none" stroke="#fff" stroke-width="0.8"/>
<text x="566.5" y="2995" font-family="'Liberation Serif', 'Times New Roman', serif" font-size="102" text-anchor="start" fill="#000" font-weight="bold" font-style="normal" textLength="894" lengthAdjust="spacingAndGlyphs">Extracted Barrier</text>
<text x="1884" y="3033.6" font-family="'Liberation Serif', 'Times New Roman', serif" font-size="87" text-anchor="start" fill="#000" font-weight="normal" font-style="normal" textLength="372" lengthAdjust="spacingAndGlyphs"><tspan font-style="italic">σ</tspan> = 0.3 eV</text>
<text x="1565" y="3249.5" font-family="'Liberation Serif', 'Times New Roman', serif" font-size="87" text-anchor="start" fill="#000" font-weight="normal" font-style="normal" textLength="427" lengthAdjust="spacingAndGlyphs"><tspan font-style="italic">E</tspan><tspan font-size="62" dy="13">B</tspan><tspan dy="-13"> = 1.3 eV</tspan></text>
<line x1="2022.8" y1="3113.5" x2="2022.8" y2="3300" stroke="#000" stroke-width="12.6"/>
<path d="M2022.8,3372.3 L1993,3291 Q2008,3303 2022.8,3304.6 Q2038,3303 2053.6,3291 Z" fill="#000" stroke="#000" stroke-width="4" stroke-linejoin="round"/>
<path d="M2022.8,3372.3 L1993,3291 Q2008,3303 2022.8,3304.6 Q2038,3303 2053.6,3291 Z" transform="translate(2022.8,3322) scale(0.8) translate(-2022.8,-3322)" fill="none" stroke="#fff" stroke-width="1.25" stroke-dasharray="2.75 2.25" stroke-linejoin="round" opacity="0.9"/>
<line x1="2057.2" y1="3099" x2="2305" y2="3099" stroke="#000" stroke-width="6.3"/>
<path d="M2340.4,3099 L2298.8,3083.2 Q2306,3092 2306,3099 Q2306,3106 2298.8,3114.9 Z" fill="#000" stroke="#000" stroke-width="4" stroke-linejoin="round"/>
<path d="M2340.4,3099 L2298.8,3083.2 Q2306,3092 2306,3099 Q2306,3106 2298.8,3114.9 Z" transform="translate(2316,3099) scale(0.72) translate(-2316,-3099)" fill="none" stroke="#fff" stroke-width="1.39" stroke-dasharray="3.06 2.50" stroke-linejoin="round" opacity="0.9"/>
</svg>
</body></html>
